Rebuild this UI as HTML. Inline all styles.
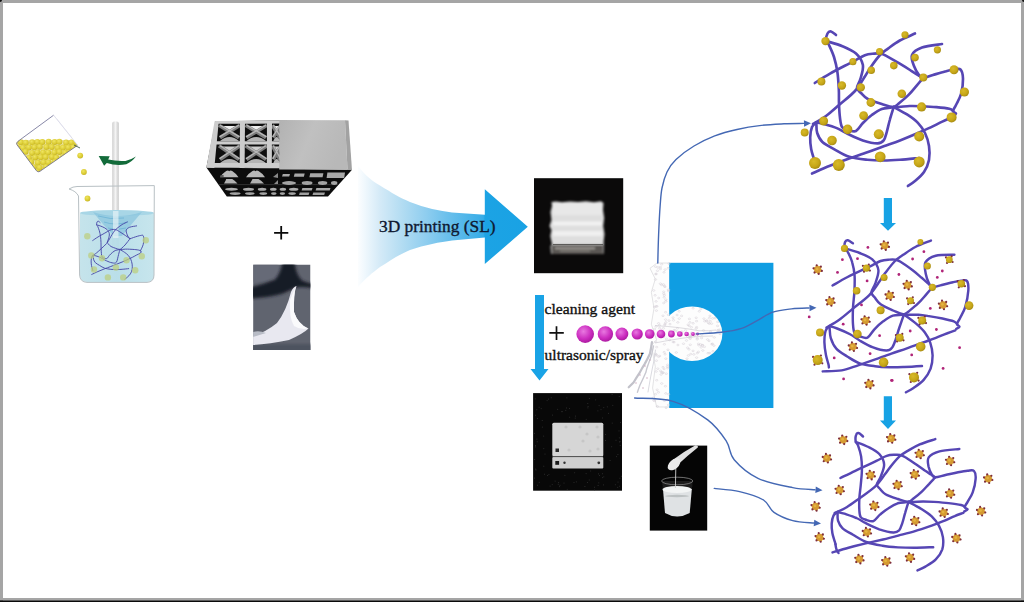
<!DOCTYPE html>
<html><head><meta charset="utf-8"><style>
html,body{margin:0;padding:0;background:#fff;width:1024px;height:602px;overflow:hidden}
svg{display:block}
</style></head><body>
<svg width="1024" height="602" viewBox="0 0 1024 602">
<defs><radialGradient id="gb" cx="0.4" cy="0.38" r="0.65"><stop offset="0" stop-color="#d8ba2a"/><stop offset="0.65" stop-color="#c6a618"/><stop offset="1" stop-color="#a68a12"/></radialGradient>
<linearGradient id="arrg" x1="0" y1="0" x2="1" y2="0"><stop offset="0" stop-color="#ffffff"/><stop offset="0.12" stop-color="#eef7fc"/><stop offset="0.55" stop-color="#8fcdee"/><stop offset="1" stop-color="#19a3e2"/></linearGradient>
<radialGradient id="mg" cx="0.4" cy="0.35" r="0.7"><stop offset="0" stop-color="#e878e0"/><stop offset="0.6" stop-color="#cc2ec0"/><stop offset="1" stop-color="#a8189c"/></radialGradient>
<radialGradient id="yb" cx="0.4" cy="0.35" r="0.7"><stop offset="0" stop-color="#f0e660"/><stop offset="0.7" stop-color="#d8c830"/><stop offset="1" stop-color="#c0ae22"/></radialGradient>
<linearGradient id="rod" x1="0" y1="0" x2="1" y2="0"><stop offset="0" stop-color="#cfcfcf"/><stop offset="0.5" stop-color="#f4f4f4"/><stop offset="1" stop-color="#c8c8c8"/></linearGradient>
<linearGradient id="liq" x1="0" y1="0" x2="1" y2="0"><stop offset="0" stop-color="#c2e2ea"/><stop offset="0.5" stop-color="#b6dde8"/><stop offset="1" stop-color="#c4e4ec"/></linearGradient>
<linearGradient id="scafTop" x1="0" y1="0" x2="1" y2="1"><stop offset="0" stop-color="#c8c8c8"/><stop offset="1" stop-color="#a0a0a0"/></linearGradient>
</defs>
<rect x="0" y="0" width="1024" height="602" fill="#ffffff"/>
<rect x="0" y="0" width="1024" height="3" fill="#a5a5a5"/>
<rect x="0" y="0" width="3" height="602" fill="#a5a5a5"/>
<rect x="1021" y="0" width="3" height="602" fill="#a5a5a5"/>
<rect x="0" y="598" width="1024" height="2.4" fill="#a5a5a5"/>
<rect x="0" y="600.4" width="1024" height="1.6" fill="#0a0a0a"/>
<circle cx="0" cy="0" r="2" fill="#111"/>
<circle cx="1024" cy="0" r="2" fill="#111"/>
<polygon points="16.5,142.5 53.6,115.2 77.4,144.9 37.9,171.6" fill="#ffffff" stroke="none"/>
<defs><clipPath id="bkc"><path d="M53.6,115.2 L18,141.3 Q15.8,143 17,144.8 L36.5,170.8 Q38,172.6 40,171.3 L77.4,145.4 Z"/></clipPath></defs>
<g clip-path="url(#bkc)">
<rect x="10" y="140" width="75" height="40" fill="#ece4a0"/>
<circle cx="14.5" cy="142.5" r="3.0" fill="url(#yb)"/>
<circle cx="20.8" cy="142.3" r="3.0" fill="url(#yb)"/>
<circle cx="25.8" cy="142.7" r="3.0" fill="url(#yb)"/>
<circle cx="32.2" cy="142.3" r="3.0" fill="url(#yb)"/>
<circle cx="37.4" cy="142.0" r="3.0" fill="url(#yb)"/>
<circle cx="42.3" cy="142.1" r="3.0" fill="url(#yb)"/>
<circle cx="48.7" cy="141.8" r="3.0" fill="url(#yb)"/>
<circle cx="54.6" cy="142.0" r="3.0" fill="url(#yb)"/>
<circle cx="59.4" cy="141.8" r="3.0" fill="url(#yb)"/>
<circle cx="66.1" cy="142.6" r="3.0" fill="url(#yb)"/>
<circle cx="71.5" cy="142.4" r="3.0" fill="url(#yb)"/>
<circle cx="75.9" cy="142.1" r="3.0" fill="url(#yb)"/>
<circle cx="17.3" cy="147.7" r="3.0" fill="url(#yb)"/>
<circle cx="22.9" cy="147.8" r="3.0" fill="url(#yb)"/>
<circle cx="28.9" cy="147.4" r="3.0" fill="url(#yb)"/>
<circle cx="34.4" cy="147.3" r="3.0" fill="url(#yb)"/>
<circle cx="39.8" cy="146.7" r="3.0" fill="url(#yb)"/>
<circle cx="46.3" cy="147.0" r="3.0" fill="url(#yb)"/>
<circle cx="51.8" cy="147.0" r="3.0" fill="url(#yb)"/>
<circle cx="57.7" cy="147.8" r="3.0" fill="url(#yb)"/>
<circle cx="63.0" cy="147.6" r="3.0" fill="url(#yb)"/>
<circle cx="68.3" cy="147.6" r="3.0" fill="url(#yb)"/>
<circle cx="73.3" cy="147.3" r="3.0" fill="url(#yb)"/>
<circle cx="79.9" cy="146.9" r="3.0" fill="url(#yb)"/>
<circle cx="21.3" cy="152.2" r="3.0" fill="url(#yb)"/>
<circle cx="25.5" cy="151.8" r="3.0" fill="url(#yb)"/>
<circle cx="32.1" cy="152.9" r="3.0" fill="url(#yb)"/>
<circle cx="37.4" cy="152.3" r="3.0" fill="url(#yb)"/>
<circle cx="43.1" cy="152.6" r="3.0" fill="url(#yb)"/>
<circle cx="48.2" cy="152.4" r="3.0" fill="url(#yb)"/>
<circle cx="54.3" cy="152.4" r="3.0" fill="url(#yb)"/>
<circle cx="59.4" cy="151.9" r="3.0" fill="url(#yb)"/>
<circle cx="65.2" cy="152.8" r="3.0" fill="url(#yb)"/>
<circle cx="70.8" cy="152.4" r="3.0" fill="url(#yb)"/>
<circle cx="28.9" cy="157.9" r="3.0" fill="url(#yb)"/>
<circle cx="35.2" cy="157.4" r="3.0" fill="url(#yb)"/>
<circle cx="40.7" cy="157.3" r="3.0" fill="url(#yb)"/>
<circle cx="45.6" cy="157.0" r="3.0" fill="url(#yb)"/>
<circle cx="51.9" cy="156.9" r="3.0" fill="url(#yb)"/>
<circle cx="56.4" cy="157.7" r="3.0" fill="url(#yb)"/>
<circle cx="63.0" cy="157.3" r="3.0" fill="url(#yb)"/>
<circle cx="31.1" cy="162.0" r="3.0" fill="url(#yb)"/>
<circle cx="37.9" cy="162.7" r="3.0" fill="url(#yb)"/>
<circle cx="43.5" cy="162.4" r="3.0" fill="url(#yb)"/>
<circle cx="48.5" cy="162.4" r="3.0" fill="url(#yb)"/>
<circle cx="54.7" cy="162.1" r="3.0" fill="url(#yb)"/>
<circle cx="33.9" cy="167.2" r="3.0" fill="url(#yb)"/>
<circle cx="39.7" cy="167.7" r="3.0" fill="url(#yb)"/>
<circle cx="46.0" cy="166.9" r="3.0" fill="url(#yb)"/>
<circle cx="37.2" cy="172.1" r="3.0" fill="url(#yb)"/>
</g>
<path d="M53.6,115.2 L18,141.3 Q15.8,143 17,144.8 L36.5,170.8 Q38,172.6 40,171.3 L77.4,145.4" fill="none" stroke="#6a6a90" stroke-width="0.8"/>
<line x1="53.6" y1="115.2" x2="77.4" y2="144.9" stroke="#c8c8dc" stroke-width="0.6"/>
<line x1="57" y1="119" x2="72" y2="138" stroke="#dcdcea" stroke-width="0.5"/>
<path d="M74,145 L80,148" stroke="#2a4a3a" stroke-width="0.8"/>
<circle cx="80.2" cy="155.6" r="2.9" fill="url(#yb)"/>
<circle cx="83.9" cy="172.0" r="2.9" fill="url(#yb)"/>
<circle cx="87.5" cy="198.5" r="2.9" fill="url(#yb)"/>
<rect x="112.2" y="121.5" width="6.6" height="132" rx="2" fill="url(#rod)"/>
<path d="M98.7,156.1 L109.7,156.3 L108.2,159.6 Q116.5,161.4 125.4,160.9 Q131,160 135.9,156.6 Q132,162 126.3,164.2 Q116.5,166 106.8,163 L104.1,165.7 Z" fill="#136b3a"/>
<path d="M80,213 L80,275 Q80,282 87,282 L147,282 Q154,282 154,275 L154,213 Z" fill="url(#liq)" opacity="0.95"/>
<ellipse cx="117" cy="213" rx="37" ry="3" fill="#a8d6e6"/>
<path d="M93,212 Q117,220 142,212 Q130,226 122,236 L114,236 Q104,226 93,212Z" fill="#88c4de" opacity="0.7" filter="url(#bl05)"/>
<path d="M98,216 Q110,220 124,218 M104,222 Q115,226 128,222 M108,228 Q116,231 126,228" stroke="#5aa8d0" stroke-width="0.7" fill="none" opacity="0.8"/>
<path d="M69,189 Q73,186.5 77,186.5 L154.3,185.6 M69,189 Q76,191 78.5,196 L79.6,275 Q80,282 87,282.4 L147,282.4 Q154,282 154,275 L154.3,185.6" fill="none" stroke="#b8c0c4" stroke-width="1"/>
<rect x="113" y="211" width="5.5" height="27" fill="#e6f2f6" opacity="0.7"/>
<g fill="none" stroke="#4848a8" stroke-width="2.6" stroke-linecap="round" transform="matrix(0.345,0,0,0.375,-188.38,209.38)"><path d="M836.0,35.0 C835.2,34.4 832.4,31.8 831.0,31.5 C829.6,31.2 828.3,32.0 827.5,33.5 C826.7,35.0 825.8,38.6 826.0,40.5 C826.2,42.4 827.7,42.2 829.0,45.0 C830.3,47.8 832.6,52.5 834.0,57.0 C835.4,61.5 836.6,66.7 837.4,72.0 C838.2,77.3 838.5,83.7 838.8,89.0 C839.1,94.3 838.8,99.2 839.0,104.0 C839.2,108.8 839.5,114.2 840.0,118.0 C840.5,121.8 840.7,125.0 842.0,127.0 C843.3,129.0 847.0,129.5 848.0,130.0"/><path d="M826.0,41.0 C828.7,41.9 837.4,44.1 842.4,46.2 C847.4,48.3 852.6,50.4 856.0,53.5 C859.4,56.6 862.1,60.8 862.9,65.0 C863.6,69.2 861.5,74.9 860.5,78.7 C859.5,82.5 856.9,85.6 857.0,88.0 C857.1,90.4 859.2,91.2 861.0,93.0 C862.8,94.8 864.3,97.2 867.8,99.0 C871.3,100.8 877.5,102.7 881.8,104.0 C886.1,105.3 889.1,106.7 893.7,107.0 C898.4,107.3 905.1,106.1 909.7,106.0 C914.3,105.9 916.9,106.0 921.4,106.2 C925.9,106.4 931.9,106.7 936.5,107.1 C941.1,107.5 946.5,108.1 949.3,108.8 C952.1,109.5 952.7,110.8 953.4,111.2"/><path d="M814.8,83.0 C817.3,81.4 823.6,77.2 830.0,73.6 C836.4,70.0 847.5,64.5 853.3,61.4 C859.1,58.3 861.4,56.5 864.9,55.2 C868.4,53.9 871.7,53.9 874.2,53.6 C876.7,53.3 878.1,53.3 880.0,53.6 C881.9,53.9 882.5,53.9 885.8,55.6 C889.1,57.3 895.8,61.3 899.8,63.7 C903.8,66.1 907.0,68.1 910.0,70.0 C913.0,71.9 915.8,73.7 918.0,75.0 C920.2,76.3 922.2,77.5 923.0,78.0"/><path d="M813.0,124.0 C815.2,122.7 821.7,119.2 826.0,116.0 C830.3,112.8 834.2,109.2 839.0,105.0 C843.8,100.8 850.7,95.8 855.0,91.0 C859.3,86.2 862.3,80.5 864.9,76.5 C867.5,72.5 868.2,70.8 870.7,67.2 C873.2,63.6 877.1,58.1 880.0,55.0 C882.9,51.9 884.7,51.0 888.0,48.6 C891.3,46.2 895.3,43.0 899.8,40.5 C904.3,38.0 912.5,34.7 915.0,33.5"/><path d="M942.0,44.0 C938.7,44.6 927.0,45.8 922.0,47.6 C917.0,49.4 913.3,51.9 912.0,55.0 C910.7,58.1 912.8,62.7 914.0,66.0 C915.2,69.3 917.5,73.0 919.0,75.0 C920.5,77.0 920.7,78.0 923.0,78.0 C925.3,78.0 929.3,76.1 933.0,75.0 C936.7,73.9 941.5,72.4 945.0,71.5 C948.5,70.6 951.4,69.8 954.0,69.5 C956.6,69.2 959.0,68.0 960.5,69.5 C962.0,71.0 962.9,74.6 963.0,78.7 C963.1,82.8 962.2,89.6 961.0,94.0 C959.8,98.4 957.3,102.2 956.0,105.0 C954.7,107.8 953.0,109.6 953.0,111.0 C953.0,112.4 956.1,112.7 956.0,113.5 C955.9,114.3 953.1,115.6 952.5,116.0"/><path d="M923.0,78.0 C922.0,79.3 919.1,82.8 916.7,85.6 C914.3,88.4 911.5,92.0 908.6,94.9 C905.7,97.8 901.8,101.0 899.3,103.0 C896.8,105.0 896.6,106.0 893.7,107.0 C890.8,108.0 885.4,107.7 881.8,109.0 C878.1,110.3 874.9,112.7 871.8,115.0 C868.6,117.3 865.5,120.3 862.9,123.0 C860.3,125.7 858.5,129.8 856.0,131.0 C853.5,132.2 849.3,130.2 848.0,130.0"/><path d="M816.0,122.4 C817.3,122.7 820.4,123.0 824.0,124.0 C827.6,125.0 833.4,126.7 837.4,128.4 C841.4,130.1 843.8,132.0 848.0,134.0 C852.2,136.0 857.8,138.8 862.8,140.4 C867.8,142.0 874.2,143.3 877.7,143.3 C881.2,143.3 882.2,142.3 883.7,140.4 C885.2,138.5 885.8,135.2 886.8,131.8 C887.8,128.4 888.6,124.1 889.8,120.0 C890.9,115.9 893.1,109.2 893.7,107.0"/><path d="M893.7,107.0 C896.0,108.3 903.4,112.1 907.4,114.7 C911.4,117.3 915.0,119.8 917.9,122.8 C920.8,125.8 923.1,129.1 925.0,133.0 C926.9,136.9 928.3,141.5 929.0,146.0 C929.7,150.5 929.8,155.7 929.0,160.0 C928.2,164.3 926.3,168.5 924.0,172.0 C921.7,175.5 917.7,178.7 915.0,181.0 C912.3,183.3 909.1,185.2 907.9,186.0"/><path d="M816.4,124.0 C816.5,125.5 816.2,130.0 817.2,133.0 C818.2,136.0 819.5,139.3 822.4,142.0 C825.3,144.7 829.9,146.8 834.4,149.3 C838.9,151.8 843.8,155.1 849.3,156.8 C854.8,158.6 861.6,159.2 867.3,159.8 C873.0,160.4 878.2,160.5 883.7,160.5 C889.2,160.5 894.1,160.2 900.0,159.8 C905.9,159.4 915.8,158.3 919.0,158.0"/><path d="M812.0,173.5 C815.0,172.2 823.9,168.2 829.9,165.8 C835.9,163.4 841.6,161.2 847.8,159.0 C854.0,156.8 861.3,154.4 867.3,152.3 C873.3,150.2 878.2,148.3 883.7,146.3 C889.2,144.3 894.3,142.6 900.0,140.4 C905.7,138.2 912.9,135.2 918.0,133.0 C923.1,130.8 926.7,129.3 930.7,127.4 C934.8,125.5 938.8,123.2 942.3,121.6 C945.8,120.0 950.0,118.3 951.6,117.6"/><path d="M816.4,122.4 C815.7,123.2 813.0,124.5 812.0,127.0 C811.0,129.5 810.3,133.7 810.2,137.4 C810.1,141.1 810.5,145.6 811.2,149.3 C811.9,153.0 813.6,157.5 814.2,159.8 C814.8,162.1 814.9,162.5 815.0,163.0"/></g>
<circle cx="87.3" cy="236.2" r="3.2" fill="#bccf80" opacity="0.75"/>
<circle cx="145.8" cy="240.2" r="3.2" fill="#bccf80" opacity="0.75"/>
<circle cx="91.3" cy="255.5" r="3.2" fill="#bccf80" opacity="0.75"/>
<circle cx="141.8" cy="256.2" r="3.2" fill="#bccf80" opacity="0.75"/>
<circle cx="102.0" cy="258.2" r="3.2" fill="#bccf80" opacity="0.75"/>
<circle cx="126.5" cy="260.2" r="3.2" fill="#bccf80" opacity="0.75"/>
<circle cx="94.0" cy="269.5" r="3.2" fill="#bccf80" opacity="0.75"/>
<circle cx="115.9" cy="267.5" r="3.2" fill="#bccf80" opacity="0.75"/>
<circle cx="135.2" cy="270.2" r="3.2" fill="#bccf80" opacity="0.75"/>
<circle cx="107.9" cy="277.4" r="3.2" fill="#bccf80" opacity="0.75"/>
<circle cx="123.2" cy="277.4" r="3.2" fill="#bccf80" opacity="0.75"/>
<g>
<polygon points="206.4,167.5 352,169.8 328,196.5 226.8,196.5" fill="#0c0c0c"/>
<polygon points="215.5,121.2 280,120.5 280,169 206.4,167.5" fill="#0e0e0e"/>
<polygon points="221.5,126.0 237.5,126.0 229.5,133.2" fill="#eeeeee"/>
<path d="M219.0,125.2 L239.0,137.6 M240.0,125.2 L220.0,137.6" stroke="#7c7c7c" stroke-width="3.6"/>
<path d="M220.2,125.2 L239.5,136.9 M238.8,125.2 L219.5,136.9" stroke="#b8b8b8" stroke-width="1.3"/>
<path d="M220.0,141.1 Q229.5,133.1 239.0,141.1 Z" fill="#b4b4b4"/>
<polygon points="221.5,146.5 237.5,146.5 229.5,154.3" fill="#cfcfcf"/>
<path d="M219.0,145.7 L239.0,159.5 M240.0,145.7 L220.0,159.5" stroke="#7c7c7c" stroke-width="3.6"/>
<path d="M220.2,145.7 L239.5,158.8 M238.8,145.7 L219.5,158.8" stroke="#b8b8b8" stroke-width="1.3"/>
<path d="M220.0,163.0 Q229.5,155.0 239.0,163.0 Z" fill="#b4b4b4"/>
<polygon points="248.0,126.0 264.5,126.0 256.2,133.2" fill="#eeeeee"/>
<path d="M245.5,125.2 L266.0,137.6 M267.0,125.2 L246.5,137.6" stroke="#7c7c7c" stroke-width="3.6"/>
<path d="M246.7,125.2 L266.5,136.9 M265.8,125.2 L246.0,136.9" stroke="#b8b8b8" stroke-width="1.3"/>
<path d="M246.5,141.1 Q256.2,133.1 266.0,141.1 Z" fill="#b4b4b4"/>
<polygon points="248.0,146.5 264.5,146.5 256.2,154.3" fill="#cfcfcf"/>
<path d="M245.5,145.7 L266.0,159.5 M267.0,145.7 L246.5,159.5" stroke="#7c7c7c" stroke-width="3.6"/>
<path d="M246.7,145.7 L266.5,158.8 M265.8,145.7 L246.0,158.8" stroke="#b8b8b8" stroke-width="1.3"/>
<path d="M246.5,163.0 Q256.2,155.0 266.0,163.0 Z" fill="#b4b4b4"/>
<polygon points="274.8,126.0 278.5,126.0 276.6,133.2" fill="#eeeeee"/>
<path d="M272.3,125.2 L280.0,137.6 M281.0,125.2 L273.3,137.6" stroke="#7c7c7c" stroke-width="3.6"/>
<path d="M273.5,125.2 L280.5,136.9 M279.8,125.2 L272.8,136.9" stroke="#b8b8b8" stroke-width="1.3"/>
<path d="M273.3,141.1 Q276.6,133.1 280.0,141.1 Z" fill="#b4b4b4"/>
<polygon points="274.8,146.5 278.5,146.5 276.6,154.3" fill="#cfcfcf"/>
<path d="M272.3,145.7 L280.0,159.5 M281.0,145.7 L273.3,159.5" stroke="#7c7c7c" stroke-width="3.6"/>
<path d="M273.5,145.7 L280.5,158.8 M279.8,145.7 L272.8,158.8" stroke="#b8b8b8" stroke-width="1.3"/>
<path d="M273.3,163.0 Q276.6,155.0 280.0,163.0 Z" fill="#b4b4b4"/>
<g fill="#cdcdcd">
<polygon points="215.5,121 280,120.5 280,123.6 215,123.8"/>
<polygon points="212.6,141.2 280,141.2 280,144.6 212.2,144.6"/>
<polygon points="207.3,163 280,163 280,168.2 206.4,167.6"/>
<polygon points="214.6,121.2 218.8,121.2 214.3,168 206.4,167.6"/>
<polygon points="240,121.3 245,121.3 244.6,168 239.6,168"/>
<polygon points="267,121 272,121 271.8,168 266.8,168"/>
</g>
<path d="M220.0,177.2 Q223.0,173 226.2,171 Q228.2,170 229.2,171.3 Q230.2,170 232.2,171 Q235.5,173 238.5,177.2 Z" fill="#b8b8b8"/>
<path d="M224.0,183.6 Q226.0,180 226.2,179 L232.2,179 Q234.5,180 237.5,183.6 Z" fill="#b2b2b2"/>
<path d="M246.0,177.2 Q249.0,173 252.5,171 Q254.5,170 255.5,171.3 Q256.5,170 258.5,171 Q262.0,173 265.0,177.2 Z" fill="#b8b8b8"/>
<path d="M250.0,183.6 Q252.0,180 252.5,179 L258.5,179 Q261.0,180 264.0,183.6 Z" fill="#b2b2b2"/>
<path d="M273,177 L278,173 L278,178 Z M274,184 L278,180 L278,184 Z" fill="#8a8a8a"/>
<line x1="219" y1="184.6" x2="338" y2="184.6" stroke="#3a3a3a" stroke-width="0.8"/>
<polygon points="282.8,174.0 290.0,174.0 289.2,176.4 282.0,176.4" fill="#a8a8a8"/>
<polygon points="294.6,173.5 304.7,173.5 303.9,176.8 293.8,176.8" fill="#a8a8a8"/>
<polygon points="310.2,173.2 323.4,173.2 322.6,177.2 309.4,177.2" fill="#a8a8a8"/>
<polygon points="327.4,172.5 345.0,172.5 344.2,178.0 326.6,178.0" fill="#a8a8a8"/>
<ellipse cx="289.0" cy="183" rx="7.0" ry="1.9" fill="#a4a4a4"/>
<ellipse cx="307.1" cy="183" rx="5.4" ry="1.9" fill="#a4a4a4"/>
<ellipse cx="322.6" cy="183" rx="4.7" ry="1.9" fill="#a4a4a4"/>
<ellipse cx="334.2" cy="183" rx="3.2" ry="1.9" fill="#a4a4a4"/>
<ellipse cx="231.5" cy="189.2" rx="6.5" ry="1.5" fill="#acacac"/>
<ellipse cx="248.5" cy="189.2" rx="5.5" ry="1.5" fill="#acacac"/>
<ellipse cx="262.1" cy="189.2" rx="4.3" ry="1.5" fill="#acacac"/>
<ellipse cx="273.3" cy="189.2" rx="3.3" ry="1.5" fill="#acacac"/>
<ellipse cx="282.9" cy="189.2" rx="3.2" ry="1.5" fill="#acacac"/>
<ellipse cx="293.7" cy="189.2" rx="4.7" ry="1.5" fill="#acacac"/>
<polygon points="302.4,188 312.5,188 311.7,190.6 301.6,190.6" fill="#a8a8a8"/>
<polygon points="316.4,188 330.5,188 329.7,190.6 315.6,190.6" fill="#a8a8a8"/>
<ellipse cx="235.1" cy="193.6" rx="5.5" ry="1.4" fill="#a4a4a4"/>
<ellipse cx="249.8" cy="193.6" rx="4.8" ry="1.4" fill="#a4a4a4"/>
<ellipse cx="263.3" cy="193.6" rx="3.9" ry="1.4" fill="#a4a4a4"/>
<ellipse cx="273.8" cy="193.6" rx="2.8" ry="1.4" fill="#a4a4a4"/>
<ellipse cx="282.4" cy="193.6" rx="2.7" ry="1.4" fill="#a4a4a4"/>
<ellipse cx="292.1" cy="193.6" rx="3.8" ry="1.4" fill="#a4a4a4"/>
<polygon points="299.8,192.4 309.4,192.4 308.6,195 299.0,195" fill="#a0a0a0"/>
<polygon points="313.3,192.4 325.0,192.4 324.2,195 312.5,195" fill="#a0a0a0"/>
<ellipse cx="222" cy="176" rx="2" ry="1" fill="#555"/>
<defs><linearGradient id="blk" x1="0" y1="0" x2="1" y2="0.3"><stop offset="0" stop-color="#b2b2b2"/><stop offset="0.5" stop-color="#c0c0c0"/><stop offset="1" stop-color="#b8b8b8"/></linearGradient></defs>
<polygon points="279.2,120 345,120.3 347.5,169.8 279.2,169.4" fill="url(#blk)"/>
<polygon points="345,120.3 347.5,169.8 352,170.2 348.5,120.5" fill="#a2a2a2"/>
</g>
<path d="M274.1,232.8 L288.3,232.8 M281.2,226 L281.2,239.4" stroke="#0a0a0a" stroke-width="1.8"/>
<defs><clipPath id="cp1"><rect x="253.1" y="264.5" width="57.4" height="85.6"/></clipPath>
<filter id="bl1" x="-20%" y="-20%" width="140%" height="140%"><feGaussianBlur stdDeviation="1.6"/></filter>
<filter id="bl05"><feGaussianBlur stdDeviation="0.5"/></filter></defs>
<g clip-path="url(#cp1)">
<rect x="253.1" y="264.5" width="57.4" height="85.6" fill="#60646f"/>
<rect x="253.1" y="264.5" width="26" height="18" fill="#666a77" filter="url(#bl1)"/>
<path d="M250,287.5 Q263,284.5 275,279.5 Q281,273 282.5,262 L294.5,262 Q296,275 302,280.5 Q307,283 313,283.5 L313,288.5 Q306,286.5 297,287.2 Q290,290 283,293.5 Q270,297.5 250,298.5 Z" fill="#161b27" filter="url(#bl1)"/>
<rect x="250" y="344" width="64" height="10" fill="#4e525e" filter="url(#bl1)"/>
<path d="M253,336 Q266,332 277,323 Q286.3,311 291,292 Q293,287 296.5,286 Q293.5,294 294,312 Q298,324 308.5,328.6 Q303,334 289,340 Q270,344 253,345 Z" fill="#e8e8f0" filter="url(#bl05)"/>
<path d="M295.8,286.3 Q293.5,294 294,312 Q298,324 307.8,328.6 Q300,330 294,326 Q289,318 290,300 Z" fill="#fafafc" filter="url(#bl05)"/>
<path d="M253,332 Q259,330 266,333 L253,337 Z" fill="#b8bcc6" filter="url(#bl05)"/>
</g>
<defs><linearGradient id="ag" gradientUnits="userSpaceOnUse" x1="356" y1="0" x2="528" y2="0"><stop offset="0" stop-color="#ffffff"/><stop offset="0.05" stop-color="#f0f8fd"/><stop offset="0.14" stop-color="#d4eaf7"/><stop offset="0.27" stop-color="#b2dcf2"/><stop offset="0.41" stop-color="#8ecdef"/><stop offset="0.52" stop-color="#6ec1ec"/><stop offset="0.74" stop-color="#36ace7"/><stop offset="0.75" stop-color="#1ca3e4"/><stop offset="1" stop-color="#19a2e4"/></linearGradient></defs>
<path d="M358,166 C366,176 372,181 380,185.6 C392,193 400,198 410,202 C425,208 440,211 452,212.5 L484.8,214.8 L484.8,189.2 L527.8,226.7 L484.8,264.1 L484.8,237.6 L452,240.5 C440,242 425,245 410,250 C398,255 390,261 380,267 C372,273 366,278 358,287 Z" fill="url(#ag)"/>
<text x="379" y="232.4" font-family="Liberation Serif" font-size="17.35" fill="#0e1830" stroke="#0e1830" stroke-width="0.35">3D printing (SL)</text>
<rect x="534" y="178.2" width="89.2" height="95" fill="#0b0a0a"/>
<defs><filter id="bl2"><feGaussianBlur stdDeviation="0.8"/></filter></defs>
<g filter="url(#bl2)">
<path d="M551,254 L550.5,246 L552,244 L550.3,236 L551.5,230 L549.5,226 L551.5,220 L550.5,212 L552,206 L551.5,202 L556,201.5 L562,202.3 L570,201.4 L578,202 L586,201.3 L594,202.2 L601,201.2 L603.5,203 L603,210 L604.2,218 L603.2,226 L604.5,234 L603.6,242 L604,248 L603.5,254 Z" fill="#dedede"/>
<rect x="553" y="203" width="49" height="12" fill="#e8e8e8"/>
<rect x="553" y="221.5" width="49" height="4" fill="#f2f2f2"/>
<rect x="553" y="231" width="49" height="5" fill="#f0f0f0"/>
<rect x="551.5" y="244.8" width="52" height="9.2" fill="#5a5652"/>
<rect x="555" y="247.5" width="40" height="1.6" fill="#a8a4a0"/>
<rect x="560" y="250.5" width="30" height="1.2" fill="#8c8884"/>
</g>
<line x1="553" y1="244.6" x2="603" y2="244.6" stroke="#3a3836" stroke-width="0.8"/>
<path d="M535,295 L544,295 L544,369 L548.5,369 L539.5,380.5 L530.5,369 L535,369 Z" fill="#19a3e6"/>
<text x="544.6" y="313.6" font-family="Liberation Serif" font-size="15.6" fill="#111" stroke="#111" stroke-width="0.35">cleaning agent</text>
<text x="544.6" y="359.5" font-family="Liberation Serif" font-size="15.5" fill="#111" stroke="#111" stroke-width="0.35">ultrasonic/spray</text>
<path d="M549.3,332.9 L563.8,332.9 M556.5,326.2 L556.5,339.9" stroke="#111" stroke-width="1.7"/>
<path d="M657,263 L650,268.3 L655.3,279 L651.3,292.2 L654,308.2 L651.3,324.2 L656.6,340 L651.3,345.4 L655.3,366.7 L652.6,388 L656.6,407 L670,407 L670,263 Z" fill="#fdfdfd" stroke="#d0d0d4" stroke-width="0.6"/>
<rect x="669.2" y="262.8" width="104.2" height="145.2" fill="#0f9de2"/>
<ellipse cx="692" cy="333.7" rx="30.4" ry="27.3" fill="#fdfdfd"/>
<g fill="none" stroke="#d2ccd4" stroke-width="0.5">
<ellipse cx="683.5" cy="343.7" rx="1.2" ry="0.8"/>
<ellipse cx="718.4" cy="330.0" rx="1.2" ry="0.8"/>
<ellipse cx="687.6" cy="347.8" rx="1.2" ry="0.8"/>
<ellipse cx="663.7" cy="336.7" rx="1.2" ry="0.8"/>
<ellipse cx="657.0" cy="306.3" rx="1.2" ry="0.8"/>
<ellipse cx="656.7" cy="380.2" rx="1.2" ry="0.8"/>
<ellipse cx="698.4" cy="351.9" rx="1.2" ry="0.8"/>
<ellipse cx="661.7" cy="264.2" rx="1.2" ry="0.8"/>
<ellipse cx="664.1" cy="297.3" rx="1.2" ry="0.8"/>
<ellipse cx="688.4" cy="355.5" rx="1.2" ry="0.8"/>
<ellipse cx="687.0" cy="358.7" rx="1.2" ry="0.8"/>
<ellipse cx="706.7" cy="320.5" rx="1.2" ry="0.8"/>
<ellipse cx="712.6" cy="318.4" rx="1.2" ry="0.8"/>
<ellipse cx="717.4" cy="330.6" rx="1.2" ry="0.8"/>
<ellipse cx="655.4" cy="353.9" rx="1.2" ry="0.8"/>
<ellipse cx="656.4" cy="310.6" rx="1.2" ry="0.8"/>
<ellipse cx="658.7" cy="298.0" rx="1.2" ry="0.8"/>
<ellipse cx="657.5" cy="270.7" rx="1.2" ry="0.8"/>
<ellipse cx="691.4" cy="327.3" rx="1.2" ry="0.8"/>
<ellipse cx="664.1" cy="368.9" rx="1.2" ry="0.8"/>
<ellipse cx="659.7" cy="356.0" rx="1.2" ry="0.8"/>
<ellipse cx="658.6" cy="323.4" rx="1.2" ry="0.8"/>
<ellipse cx="665.8" cy="301.4" rx="1.2" ry="0.8"/>
<ellipse cx="665.6" cy="319.6" rx="1.2" ry="0.8"/>
<ellipse cx="657.4" cy="406.4" rx="1.2" ry="0.8"/>
<ellipse cx="665.8" cy="299.7" rx="1.2" ry="0.8"/>
<ellipse cx="656.7" cy="347.1" rx="1.2" ry="0.8"/>
<ellipse cx="668.0" cy="349.8" rx="1.2" ry="0.8"/>
<ellipse cx="677.5" cy="328.2" rx="1.2" ry="0.8"/>
<ellipse cx="663.5" cy="284.5" rx="1.2" ry="0.8"/>
<ellipse cx="668.5" cy="289.7" rx="1.2" ry="0.8"/>
<ellipse cx="664.5" cy="400.7" rx="1.2" ry="0.8"/>
<ellipse cx="667.6" cy="364.9" rx="1.2" ry="0.8"/>
<ellipse cx="663.0" cy="367.2" rx="1.2" ry="0.8"/>
<ellipse cx="655.1" cy="295.3" rx="1.2" ry="0.8"/>
<ellipse cx="663.0" cy="315.8" rx="1.2" ry="0.8"/>
<ellipse cx="701.2" cy="347.3" rx="1.2" ry="0.8"/>
<ellipse cx="660.4" cy="267.1" rx="1.2" ry="0.8"/>
<ellipse cx="655.6" cy="341.7" rx="1.2" ry="0.8"/>
<ellipse cx="713.9" cy="345.6" rx="1.2" ry="0.8"/>
<ellipse cx="696.2" cy="317.8" rx="1.2" ry="0.8"/>
<ellipse cx="693.1" cy="350.9" rx="1.2" ry="0.8"/>
<ellipse cx="655.9" cy="355.4" rx="1.2" ry="0.8"/>
<ellipse cx="703.9" cy="318.7" rx="1.2" ry="0.8"/>
<ellipse cx="704.4" cy="346.8" rx="1.2" ry="0.8"/>
<ellipse cx="656.2" cy="371.5" rx="1.2" ry="0.8"/>
<ellipse cx="701.7" cy="334.6" rx="1.2" ry="0.8"/>
<ellipse cx="668.9" cy="263.7" rx="1.2" ry="0.8"/>
<ellipse cx="665.0" cy="286.8" rx="1.2" ry="0.8"/>
<ellipse cx="664.7" cy="324.9" rx="1.2" ry="0.8"/>
<ellipse cx="715.1" cy="318.1" rx="1.2" ry="0.8"/>
<ellipse cx="693.1" cy="308.2" rx="1.2" ry="0.8"/>
<ellipse cx="660.1" cy="334.5" rx="1.2" ry="0.8"/>
<ellipse cx="665.8" cy="322.4" rx="1.2" ry="0.8"/>
<ellipse cx="696.3" cy="334.1" rx="1.2" ry="0.8"/>
<ellipse cx="655.5" cy="266.6" rx="1.2" ry="0.8"/>
<ellipse cx="702.4" cy="345.3" rx="1.2" ry="0.8"/>
<ellipse cx="660.4" cy="268.9" rx="1.2" ry="0.8"/>
<ellipse cx="696.6" cy="327.2" rx="1.2" ry="0.8"/>
<ellipse cx="696.6" cy="357.6" rx="1.2" ry="0.8"/>
<ellipse cx="701.6" cy="338.0" rx="1.2" ry="0.8"/>
<ellipse cx="659.6" cy="328.2" rx="1.2" ry="0.8"/>
<ellipse cx="677.9" cy="345.0" rx="1.2" ry="0.8"/>
<ellipse cx="719.9" cy="329.7" rx="1.2" ry="0.8"/>
<ellipse cx="665.8" cy="393.4" rx="1.2" ry="0.8"/>
<ellipse cx="656.1" cy="326.4" rx="1.2" ry="0.8"/>
<ellipse cx="660.4" cy="283.7" rx="1.2" ry="0.8"/>
<ellipse cx="720.0" cy="333.9" rx="1.2" ry="0.8"/>
<ellipse cx="666.4" cy="338.9" rx="1.2" ry="0.8"/>
<ellipse cx="697.3" cy="338.3" rx="1.2" ry="0.8"/>
<ellipse cx="712.4" cy="343.8" rx="1.2" ry="0.8"/>
<ellipse cx="673.1" cy="317.7" rx="1.2" ry="0.8"/>
<ellipse cx="665.4" cy="386.2" rx="1.2" ry="0.8"/>
<ellipse cx="689.7" cy="335.5" rx="1.2" ry="0.8"/>
<ellipse cx="691.7" cy="333.7" rx="1.2" ry="0.8"/>
<ellipse cx="689.9" cy="322.4" rx="1.2" ry="0.8"/>
<ellipse cx="669.9" cy="331.1" rx="1.2" ry="0.8"/>
<ellipse cx="659.4" cy="325.3" rx="1.2" ry="0.8"/>
<ellipse cx="664.2" cy="352.2" rx="1.2" ry="0.8"/>
<ellipse cx="664.4" cy="295.2" rx="1.2" ry="0.8"/>
<ellipse cx="700.8" cy="309.0" rx="1.2" ry="0.8"/>
<ellipse cx="676.3" cy="352.5" rx="1.2" ry="0.8"/>
<ellipse cx="657.8" cy="368.7" rx="1.2" ry="0.8"/>
<ellipse cx="659.1" cy="336.5" rx="1.2" ry="0.8"/>
<ellipse cx="668.5" cy="290.9" rx="1.2" ry="0.8"/>
<ellipse cx="689.2" cy="325.8" rx="1.2" ry="0.8"/>
<ellipse cx="677.8" cy="322.4" rx="1.2" ry="0.8"/>
<ellipse cx="665.1" cy="354.2" rx="1.2" ry="0.8"/>
<ellipse cx="697.2" cy="339.3" rx="1.2" ry="0.8"/>
<ellipse cx="713.0" cy="351.3" rx="1.2" ry="0.8"/>
<ellipse cx="666.1" cy="407.8" rx="1.2" ry="0.8"/>
<ellipse cx="667.7" cy="368.1" rx="1.2" ry="0.8"/>
<ellipse cx="711.6" cy="323.6" rx="1.2" ry="0.8"/>
<ellipse cx="664.0" cy="272.3" rx="1.2" ry="0.8"/>
<ellipse cx="657.9" cy="267.5" rx="1.2" ry="0.8"/>
<ellipse cx="690.8" cy="337.2" rx="1.2" ry="0.8"/>
<ellipse cx="663.7" cy="291.8" rx="1.2" ry="0.8"/>
<ellipse cx="654.6" cy="400.9" rx="1.2" ry="0.8"/>
<ellipse cx="674.2" cy="330.2" rx="1.2" ry="0.8"/>
<ellipse cx="688.1" cy="324.8" rx="1.2" ry="0.8"/>
<ellipse cx="663.4" cy="328.3" rx="1.2" ry="0.8"/>
<ellipse cx="704.7" cy="321.2" rx="1.2" ry="0.8"/>
<ellipse cx="664.4" cy="286.1" rx="1.2" ry="0.8"/>
<ellipse cx="696.6" cy="321.1" rx="1.2" ry="0.8"/>
<ellipse cx="694.4" cy="335.6" rx="1.2" ry="0.8"/>
<ellipse cx="710.3" cy="321.2" rx="1.2" ry="0.8"/>
<ellipse cx="706.6" cy="321.2" rx="1.2" ry="0.8"/>
<ellipse cx="675.3" cy="330.5" rx="1.2" ry="0.8"/>
<ellipse cx="697.3" cy="353.1" rx="1.2" ry="0.8"/>
<ellipse cx="667.2" cy="399.9" rx="1.2" ry="0.8"/>
<ellipse cx="699.3" cy="311.3" rx="1.2" ry="0.8"/>
<ellipse cx="698.8" cy="345.2" rx="1.2" ry="0.8"/>
<ellipse cx="689.4" cy="318.9" rx="1.2" ry="0.8"/>
<ellipse cx="669.0" cy="320.6" rx="1.2" ry="0.8"/>
<ellipse cx="653.7" cy="290.5" rx="1.2" ry="0.8"/>
<ellipse cx="668.6" cy="394.2" rx="1.2" ry="0.8"/>
<ellipse cx="690.7" cy="336.1" rx="1.2" ry="0.8"/>
<ellipse cx="653.3" cy="397.8" rx="1.2" ry="0.8"/>
<ellipse cx="661.8" cy="330.9" rx="1.2" ry="0.8"/>
<ellipse cx="662.5" cy="334.3" rx="1.2" ry="0.8"/>
<ellipse cx="689.0" cy="349.3" rx="1.2" ry="0.8"/>
<ellipse cx="698.5" cy="343.9" rx="1.2" ry="0.8"/>
<ellipse cx="668.1" cy="268.2" rx="1.2" ry="0.8"/>
<ellipse cx="661.6" cy="372.2" rx="1.2" ry="0.8"/>
<ellipse cx="655.4" cy="394.2" rx="1.2" ry="0.8"/>
<ellipse cx="681.8" cy="331.7" rx="1.2" ry="0.8"/>
<ellipse cx="703.5" cy="330.4" rx="1.2" ry="0.8"/>
<ellipse cx="696.2" cy="328.5" rx="1.2" ry="0.8"/>
<ellipse cx="665.1" cy="269.6" rx="1.2" ry="0.8"/>
<ellipse cx="693.1" cy="323.3" rx="1.2" ry="0.8"/>
<ellipse cx="707.6" cy="339.5" rx="1.2" ry="0.8"/>
<ellipse cx="658.4" cy="392.3" rx="1.2" ry="0.8"/>
<ellipse cx="708.0" cy="353.2" rx="1.2" ry="0.8"/>
<ellipse cx="700.7" cy="344.5" rx="1.2" ry="0.8"/>
<ellipse cx="693.8" cy="354.4" rx="1.2" ry="0.8"/>
<ellipse cx="668.4" cy="405.0" rx="1.2" ry="0.8"/>
<ellipse cx="670.0" cy="324.1" rx="1.2" ry="0.8"/>
<ellipse cx="656.4" cy="360.7" rx="1.2" ry="0.8"/>
<ellipse cx="690.7" cy="354.1" rx="1.2" ry="0.8"/>
<ellipse cx="677.6" cy="331.9" rx="1.2" ry="0.8"/>
<ellipse cx="665.6" cy="312.2" rx="1.2" ry="0.8"/>
<ellipse cx="655.5" cy="279.5" rx="1.2" ry="0.8"/>
<ellipse cx="709.9" cy="353.1" rx="1.2" ry="0.8"/>
<ellipse cx="709.9" cy="315.9" rx="1.2" ry="0.8"/>
<ellipse cx="674.1" cy="342.1" rx="1.2" ry="0.8"/>
<ellipse cx="681.6" cy="315.9" rx="1.2" ry="0.8"/>
<ellipse cx="657.2" cy="389.8" rx="1.2" ry="0.8"/>
<ellipse cx="655.8" cy="274.1" rx="1.2" ry="0.8"/>
<ellipse cx="691.8" cy="332.8" rx="1.2" ry="0.8"/>
<ellipse cx="665.8" cy="358.7" rx="1.2" ry="0.8"/>
<ellipse cx="656.0" cy="306.4" rx="1.2" ry="0.8"/>
<ellipse cx="702.5" cy="345.1" rx="1.2" ry="0.8"/>
<ellipse cx="717.6" cy="325.9" rx="1.2" ry="0.8"/>
<ellipse cx="673.5" cy="320.3" rx="1.2" ry="0.8"/>
<ellipse cx="668.4" cy="314.8" rx="1.2" ry="0.8"/>
<ellipse cx="677.1" cy="315.0" rx="1.2" ry="0.8"/>
<ellipse cx="679.3" cy="318.6" rx="1.2" ry="0.8"/>
<ellipse cx="664.4" cy="344.3" rx="1.2" ry="0.8"/>
<ellipse cx="709.0" cy="340.9" rx="1.2" ry="0.8"/>
<ellipse cx="711.9" cy="344.2" rx="1.2" ry="0.8"/>
<ellipse cx="663.1" cy="372.8" rx="1.2" ry="0.8"/>
<ellipse cx="690.3" cy="344.8" rx="1.2" ry="0.8"/>
<ellipse cx="656.2" cy="273.9" rx="1.2" ry="0.8"/>
<ellipse cx="656.3" cy="354.6" rx="1.2" ry="0.8"/>
<ellipse cx="660.6" cy="370.9" rx="1.2" ry="0.8"/>
<ellipse cx="666.3" cy="373.7" rx="1.2" ry="0.8"/>
<ellipse cx="679.2" cy="311.3" rx="1.2" ry="0.8"/>
<ellipse cx="686.5" cy="340.5" rx="1.2" ry="0.8"/>
<ellipse cx="717.7" cy="321.9" rx="1.2" ry="0.8"/>
<ellipse cx="709.4" cy="323.6" rx="1.2" ry="0.8"/>
<ellipse cx="665.1" cy="324.0" rx="1.2" ry="0.8"/>
<ellipse cx="654.4" cy="307.0" rx="1.2" ry="0.8"/>
<ellipse cx="658.5" cy="356.6" rx="1.2" ry="0.8"/>
<ellipse cx="654.6" cy="329.0" rx="1.2" ry="0.8"/>
<ellipse cx="663.7" cy="293.7" rx="1.2" ry="0.8"/>
<ellipse cx="667.4" cy="366.7" rx="1.2" ry="0.8"/>
<ellipse cx="663.7" cy="303.0" rx="1.2" ry="0.8"/>
<ellipse cx="662.8" cy="372.6" rx="1.2" ry="0.8"/>
<ellipse cx="673.1" cy="342.0" rx="1.2" ry="0.8"/>
<ellipse cx="710.5" cy="332.0" rx="1.2" ry="0.8"/>
<ellipse cx="653.7" cy="400.3" rx="1.2" ry="0.8"/>
<ellipse cx="709.3" cy="318.2" rx="1.2" ry="0.8"/>
<ellipse cx="689.0" cy="337.3" rx="1.2" ry="0.8"/>
<ellipse cx="702.8" cy="350.5" rx="1.2" ry="0.8"/>
<ellipse cx="661.6" cy="284.9" rx="1.2" ry="0.8"/>
<ellipse cx="714.3" cy="337.4" rx="1.2" ry="0.8"/>
<ellipse cx="669.7" cy="340.0" rx="1.2" ry="0.8"/>
<ellipse cx="661.1" cy="374.5" rx="1.2" ry="0.8"/>
<ellipse cx="656.1" cy="301.4" rx="1.2" ry="0.8"/>
<ellipse cx="685.5" cy="330.4" rx="1.2" ry="0.8"/>
<ellipse cx="708.4" cy="322.9" rx="1.2" ry="0.8"/>
<ellipse cx="690.2" cy="338.7" rx="1.2" ry="0.8"/>
<ellipse cx="661.7" cy="383.5" rx="1.2" ry="0.8"/>
</g>
<path d="M655,325.6 Q680,327 699,330.8 Q710,331 716,330 M655,343 Q675,339 690,337.2 Q702,336 713,336" stroke="#c8c4cc" stroke-width="0.6" fill="none"/>
<g fill="none" stroke-linecap="round">
<path d="M652,342 Q651,349 649.9,353.7 Q647.5,359 644.9,363.6 Q642,368 639.9,372.4 Q636.5,377.5 633.7,382.3 Q631,385 628.7,387.3" stroke="#c2c2ca" stroke-width="2.2"/>
<path d="M653.5,346 Q652,356 648,365 Q646.5,369 646,372 Q643,379 640,385 Q638.5,389 637.4,392.3" stroke="#c8c8d0" stroke-width="1.4"/>
<path d="M655.5,350 Q654,362 652,370 Q650,380 648,392" stroke="#d0d0d8" stroke-width="0.8"/>
</g>
<circle cx="645.0" cy="366.0" r="0.7" fill="#c8a0b8"/>
<circle cx="640.0" cy="375.0" r="0.7" fill="#c8a0b8"/>
<circle cx="636.0" cy="383.0" r="0.7" fill="#c8a0b8"/>
<circle cx="647.0" cy="378.0" r="0.7" fill="#c8a0b8"/>
<circle cx="643.0" cy="388.0" r="0.7" fill="#c8a0b8"/>
<circle cx="650.0" cy="360.0" r="0.7" fill="#c8a0b8"/>
<circle cx="585.2" cy="334.1" r="8.8" fill="url(#mg)"/>
<circle cx="605.4" cy="334.0" r="7.7" fill="url(#mg)"/>
<circle cx="621.9" cy="334.0" r="6.4" fill="url(#mg)"/>
<circle cx="637.2" cy="334.0" r="5.6" fill="url(#mg)"/>
<circle cx="649.7" cy="334.0" r="4.8" fill="url(#mg)"/>
<circle cx="661.0" cy="334.0" r="4.3" fill="url(#mg)"/>
<circle cx="671.4" cy="334.0" r="3.4" fill="url(#mg)"/>
<circle cx="679.8" cy="334.0" r="2.8" fill="url(#mg)"/>
<circle cx="686.6" cy="334.0" r="2.3" fill="url(#mg)"/>
<circle cx="693.0" cy="334.0" r="1.9" fill="url(#mg)"/>
<circle cx="697.6" cy="334.0" r="1.4" fill="url(#mg)"/>
<rect x="533.1" y="393.1" width="88.9" height="97.6" fill="#080808"/>
<g fill="#3a3a3a">
<rect x="603.2" y="484.5" width="0.8" height="0.8"/>
<rect x="598.4" y="482.5" width="0.8" height="0.8"/>
<rect x="536.5" y="438.7" width="0.8" height="0.8"/>
<rect x="616.1" y="456.3" width="0.8" height="0.8"/>
<rect x="612.4" y="404.9" width="0.8" height="0.8"/>
<rect x="574.8" y="417.7" width="0.8" height="0.8"/>
<rect x="535.1" y="414.8" width="0.8" height="0.8"/>
<rect x="558.3" y="482.0" width="0.8" height="0.8"/>
<rect x="600.6" y="409.3" width="0.8" height="0.8"/>
<rect x="603.4" y="407.3" width="0.8" height="0.8"/>
<rect x="587.7" y="406.2" width="0.8" height="0.8"/>
<rect x="534.2" y="477.7" width="0.8" height="0.8"/>
<rect x="552.2" y="414.7" width="0.8" height="0.8"/>
<rect x="619.5" y="477.8" width="0.8" height="0.8"/>
<rect x="559.2" y="486.3" width="0.8" height="0.8"/>
<rect x="551.8" y="484.3" width="0.8" height="0.8"/>
<rect x="594.1" y="486.8" width="0.8" height="0.8"/>
<rect x="611.8" y="422.7" width="0.8" height="0.8"/>
<rect x="565.4" y="409.9" width="0.8" height="0.8"/>
<rect x="546.7" y="400.3" width="0.8" height="0.8"/>
<rect x="534.3" y="459.1" width="0.8" height="0.8"/>
<rect x="605.2" y="440.2" width="0.8" height="0.8"/>
<rect x="595.3" y="399.5" width="0.8" height="0.8"/>
<rect x="618.8" y="396.2" width="0.8" height="0.8"/>
<rect x="599.2" y="475.1" width="0.8" height="0.8"/>
<rect x="535.6" y="469.6" width="0.8" height="0.8"/>
<rect x="534.8" y="398.5" width="0.8" height="0.8"/>
<rect x="549.7" y="485.7" width="0.8" height="0.8"/>
<rect x="614.9" y="484.4" width="0.8" height="0.8"/>
<rect x="543.4" y="465.8" width="0.8" height="0.8"/>
<rect x="603.4" y="476.5" width="0.8" height="0.8"/>
<rect x="537.2" y="484.8" width="0.8" height="0.8"/>
<rect x="541.9" y="426.7" width="0.8" height="0.8"/>
<rect x="587.1" y="482.1" width="0.8" height="0.8"/>
<rect x="563.6" y="482.7" width="0.8" height="0.8"/>
<rect x="561.6" y="411.0" width="0.8" height="0.8"/>
<rect x="540.8" y="408.3" width="0.8" height="0.8"/>
<rect x="594.0" y="489.7" width="0.8" height="0.8"/>
<rect x="548.1" y="398.7" width="0.8" height="0.8"/>
<rect x="619.8" y="445.2" width="0.8" height="0.8"/>
<rect x="569.3" y="416.8" width="0.8" height="0.8"/>
<rect x="585.7" y="473.3" width="0.8" height="0.8"/>
<rect x="538.8" y="481.9" width="0.8" height="0.8"/>
<rect x="536.8" y="441.4" width="0.8" height="0.8"/>
<rect x="606.9" y="406.5" width="0.8" height="0.8"/>
<rect x="597.7" y="485.2" width="0.8" height="0.8"/>
<rect x="543.3" y="435.7" width="0.8" height="0.8"/>
<rect x="547.0" y="475.1" width="0.8" height="0.8"/>
<rect x="620.9" y="475.8" width="0.8" height="0.8"/>
<rect x="618.9" y="437.5" width="0.8" height="0.8"/>
<rect x="569.1" y="408.1" width="0.8" height="0.8"/>
<rect x="566.8" y="488.9" width="0.8" height="0.8"/>
<rect x="617.5" y="454.2" width="0.8" height="0.8"/>
<rect x="541.8" y="420.1" width="0.8" height="0.8"/>
<rect x="602.0" y="477.3" width="0.8" height="0.8"/>
<rect x="559.6" y="484.8" width="0.8" height="0.8"/>
<rect x="535.0" y="446.5" width="0.8" height="0.8"/>
<rect x="574.3" y="472.4" width="0.8" height="0.8"/>
<rect x="590.3" y="470.6" width="0.8" height="0.8"/>
<rect x="598.2" y="473.5" width="0.8" height="0.8"/>
<rect x="564.5" y="474.9" width="0.8" height="0.8"/>
<rect x="609.7" y="460.1" width="0.8" height="0.8"/>
<rect x="618.9" y="485.8" width="0.8" height="0.8"/>
<rect x="548.5" y="474.3" width="0.8" height="0.8"/>
<rect x="615.6" y="439.8" width="0.8" height="0.8"/>
<rect x="597.5" y="410.5" width="0.8" height="0.8"/>
<rect x="536.4" y="409.4" width="0.8" height="0.8"/>
<rect x="588.9" y="398.0" width="0.8" height="0.8"/>
<rect x="575.0" y="415.7" width="0.8" height="0.8"/>
<rect x="538.7" y="406.8" width="0.8" height="0.8"/>
<rect x="561.6" y="411.4" width="0.8" height="0.8"/>
<rect x="550.8" y="397.4" width="0.8" height="0.8"/>
<rect x="554.7" y="480.7" width="0.8" height="0.8"/>
<rect x="534.1" y="432.9" width="0.8" height="0.8"/>
<rect x="544.0" y="473.8" width="0.8" height="0.8"/>
<rect x="566.5" y="397.5" width="0.8" height="0.8"/>
<rect x="587.4" y="403.1" width="0.8" height="0.8"/>
<rect x="584.5" y="486.0" width="0.8" height="0.8"/>
<rect x="605.2" y="434.2" width="0.8" height="0.8"/>
<rect x="566.1" y="407.6" width="0.8" height="0.8"/>
<rect x="617.3" y="486.9" width="0.8" height="0.8"/>
<rect x="611.7" y="394.1" width="0.8" height="0.8"/>
<rect x="543.4" y="448.3" width="0.8" height="0.8"/>
<rect x="587.5" y="407.5" width="0.8" height="0.8"/>
<rect x="588.8" y="479.6" width="0.8" height="0.8"/>
<rect x="618.6" y="430.5" width="0.8" height="0.8"/>
<rect x="617.6" y="481.7" width="0.8" height="0.8"/>
<rect x="585.8" y="418.9" width="0.8" height="0.8"/>
<rect x="619.3" y="441.6" width="0.8" height="0.8"/>
<rect x="619.6" y="441.2" width="0.8" height="0.8"/>
<rect x="544.6" y="453.7" width="0.8" height="0.8"/>
<rect x="602.0" y="473.4" width="0.8" height="0.8"/>
<rect x="535.1" y="445.1" width="0.8" height="0.8"/>
<rect x="557.8" y="483.8" width="0.8" height="0.8"/>
<rect x="602.0" y="417.6" width="0.8" height="0.8"/>
<rect x="557.3" y="408.9" width="0.8" height="0.8"/>
<rect x="620.0" y="422.1" width="0.8" height="0.8"/>
<rect x="598.7" y="405.3" width="0.8" height="0.8"/>
<rect x="537.2" y="418.2" width="0.8" height="0.8"/>
<rect x="573.6" y="482.0" width="0.8" height="0.8"/>
<rect x="611.3" y="446.4" width="0.8" height="0.8"/>
<rect x="535.3" y="468.7" width="0.8" height="0.8"/>
<rect x="575.9" y="481.5" width="0.8" height="0.8"/>
<rect x="608.1" y="412.9" width="0.8" height="0.8"/>
</g>
<g filter="url(#bl05)">
<rect x="552.3" y="422.8" width="51" height="33.6" rx="1.5" fill="#d6d6d6"/>
<rect x="552.3" y="457" width="51" height="11.5" rx="1" fill="#cfcfcf"/>
</g>
<line x1="552.5" y1="456.6" x2="603" y2="456.6" stroke="#555" stroke-width="1"/>
<rect x="555.5" y="448.5" width="3.5" height="3.5" fill="#2a2a2a"/>
<rect x="555.3" y="461" width="3.8" height="3.8" fill="#1a1a1a"/>
<circle cx="564.5" cy="462.8" r="1.2" fill="#333"/>
<circle cx="598.8" cy="462.8" r="1.4" fill="#333"/>
<circle cx="580.0" cy="427.0" r="1.6" fill="#c6c6c6"/>
<circle cx="597.0" cy="427.0" r="1.6" fill="#c6c6c6"/>
<circle cx="566.0" cy="427.0" r="1.6" fill="#c6c6c6"/>
<circle cx="587.0" cy="434.0" r="1.6" fill="#c6c6c6"/>
<circle cx="598.0" cy="437.0" r="1.6" fill="#c6c6c6"/>
<circle cx="583.0" cy="441.0" r="1.6" fill="#c6c6c6"/>
<circle cx="569.0" cy="450.0" r="1.6" fill="#c6c6c6"/>
<circle cx="590.0" cy="451.0" r="1.6" fill="#c6c6c6"/>
<circle cx="598.0" cy="449.0" r="1.6" fill="#c6c6c6"/>
<rect x="649.8" y="445.6" width="57.4" height="85" fill="#050505"/>
<g filter="url(#bl05)">
<path d="M662,481 L665,513 Q677,520 689.7,513 L692.8,481 Z" fill="#1a1a1a"/>
<path d="M663,489 L665,513 Q677,520 689.7,513 L691.8,489 Z" fill="#dfe2e4"/>
<ellipse cx="677" cy="489.5" rx="14.5" ry="3.5" fill="#f2f4f4"/>
<ellipse cx="677" cy="496" rx="12" ry="1.2" fill="#9aa0a0" opacity="0.5"/>
<ellipse cx="677.2" cy="481" rx="15.6" ry="3.8" fill="none" stroke="#8a8a8a" stroke-width="0.8"/>
<line x1="675.8" y1="468" x2="675.4" y2="488" stroke="#d0d0d0" stroke-width="0.9"/>
<path d="M673,459.8 Q684,451.5 695.5,445.3 Q698.5,445.5 697.8,447.5 Q687,456 677.5,465 Z" fill="#e0e0e0"/>
<ellipse cx="674" cy="464.3" rx="7.4" ry="4.6" transform="rotate(-42 674 464.3)" fill="#ececec"/>
</g>
<g fill="none" stroke="#4468b4" stroke-width="1.4" stroke-linecap="round">
<path d="M657.8,263.0 C657.9,258.3 658.2,244.7 658.6,235.0 C659.0,225.3 659.6,212.8 660.2,205.0 C660.8,197.2 660.9,193.5 662.0,188.0 C663.1,182.5 664.7,176.8 667.0,172.0 C669.3,167.2 671.5,163.8 676.0,159.5 C680.5,155.2 687.5,149.9 694.0,146.0 C700.5,142.1 707.5,138.7 714.7,135.9 C721.9,133.2 729.5,131.2 737.0,129.5 C744.5,127.8 751.8,126.5 759.6,125.6 C767.4,124.6 776.6,124.2 784.0,123.8 C791.4,123.4 800.7,123.5 804.0,123.4"/>
<path d="M696.3,333.9 C700.5,333.6 713.8,333.2 721.3,332.3 C728.8,331.4 735.6,330.3 741.6,328.4 C747.6,326.4 752.0,323.3 757.2,320.6 C762.4,317.9 767.1,314.1 772.8,312.2 C778.5,310.2 785.6,309.6 791.6,308.9 C797.6,308.2 806.1,308.1 809.0,308.0"/>
<path d="M634.6,398.0 C641.0,398.6 660.8,397.7 673.0,401.3 C685.2,404.9 698.8,413.3 707.7,419.9 C716.6,426.5 721.9,434.5 726.3,441.1 C730.7,447.7 728.9,453.5 734.2,459.7 C739.5,465.9 748.2,473.6 758.0,478.3 C767.8,483.0 783.2,485.7 792.7,487.6 C802.2,489.5 811.3,489.4 815.0,489.8"/>
<path d="M714.3,488.4 C718.5,488.9 731.4,489.7 739.6,491.6 C747.8,493.5 757.8,496.5 763.5,500.0 C769.2,503.5 769.1,509.0 774.0,512.4 C778.9,515.8 786.0,518.8 792.7,520.6 C799.4,522.4 810.5,522.6 814.0,523.0"/>
</g>
<polygon points="811.0,123.3 804.1,126.7 803.9,120.3" fill="#4468b4"/>
<polygon points="816.5,307.8 809.6,311.2 809.4,304.8" fill="#4468b4"/>
<polygon points="822.5,490.3 815.3,492.9 815.8,486.6" fill="#4468b4"/>
<polygon points="821.0,523.6 813.7,526.2 814.3,519.8" fill="#4468b4"/>
<path d="M883.8,198.1 L892,198.1 L892,222.9 L896,222.9 L888,230.8 L880,222.9 L883.8,222.9 Z" fill="#17a2e4"/>
<path d="M883.8,396.2 L892,396.2 L892,420.4 L896,420.4 L888,428.9 L880,420.4 L883.8,420.4 Z" fill="#17a2e4"/>
<g fill="none" stroke="#5646b4" stroke-width="2.65" stroke-linecap="round" stroke-linejoin="round"><path d="M836.0,35.0 C835.2,34.4 832.4,31.8 831.0,31.5 C829.6,31.2 828.3,32.0 827.5,33.5 C826.7,35.0 825.8,38.6 826.0,40.5 C826.2,42.4 827.7,42.2 829.0,45.0 C830.3,47.8 832.6,52.5 834.0,57.0 C835.4,61.5 836.6,66.7 837.4,72.0 C838.2,77.3 838.5,83.7 838.8,89.0 C839.1,94.3 838.8,99.2 839.0,104.0 C839.2,108.8 839.5,114.2 840.0,118.0 C840.5,121.8 840.7,125.0 842.0,127.0 C843.3,129.0 847.0,129.5 848.0,130.0"/><path d="M826.0,41.0 C828.7,41.9 837.4,44.1 842.4,46.2 C847.4,48.3 852.6,50.4 856.0,53.5 C859.4,56.6 862.1,60.8 862.9,65.0 C863.6,69.2 861.5,74.9 860.5,78.7 C859.5,82.5 856.9,85.6 857.0,88.0 C857.1,90.4 859.2,91.2 861.0,93.0 C862.8,94.8 864.3,97.2 867.8,99.0 C871.3,100.8 877.5,102.7 881.8,104.0 C886.1,105.3 889.1,106.7 893.7,107.0 C898.4,107.3 905.1,106.1 909.7,106.0 C914.3,105.9 916.9,106.0 921.4,106.2 C925.9,106.4 931.9,106.7 936.5,107.1 C941.1,107.5 946.5,108.1 949.3,108.8 C952.1,109.5 952.7,110.8 953.4,111.2"/><path d="M814.8,83.0 C817.3,81.4 823.6,77.2 830.0,73.6 C836.4,70.0 847.5,64.5 853.3,61.4 C859.1,58.3 861.4,56.5 864.9,55.2 C868.4,53.9 871.7,53.9 874.2,53.6 C876.7,53.3 878.1,53.3 880.0,53.6 C881.9,53.9 882.5,53.9 885.8,55.6 C889.1,57.3 895.8,61.3 899.8,63.7 C903.8,66.1 907.0,68.1 910.0,70.0 C913.0,71.9 915.8,73.7 918.0,75.0 C920.2,76.3 922.2,77.5 923.0,78.0"/><path d="M813.0,124.0 C815.2,122.7 821.7,119.2 826.0,116.0 C830.3,112.8 834.2,109.2 839.0,105.0 C843.8,100.8 850.7,95.8 855.0,91.0 C859.3,86.2 862.3,80.5 864.9,76.5 C867.5,72.5 868.2,70.8 870.7,67.2 C873.2,63.6 877.1,58.1 880.0,55.0 C882.9,51.9 884.7,51.0 888.0,48.6 C891.3,46.2 895.3,43.0 899.8,40.5 C904.3,38.0 912.5,34.7 915.0,33.5"/><path d="M942.0,44.0 C938.7,44.6 927.0,45.8 922.0,47.6 C917.0,49.4 913.3,51.9 912.0,55.0 C910.7,58.1 912.8,62.7 914.0,66.0 C915.2,69.3 917.5,73.0 919.0,75.0 C920.5,77.0 920.7,78.0 923.0,78.0 C925.3,78.0 929.3,76.1 933.0,75.0 C936.7,73.9 941.5,72.4 945.0,71.5 C948.5,70.6 951.4,69.8 954.0,69.5 C956.6,69.2 959.0,68.0 960.5,69.5 C962.0,71.0 962.9,74.6 963.0,78.7 C963.1,82.8 962.2,89.6 961.0,94.0 C959.8,98.4 957.3,102.2 956.0,105.0 C954.7,107.8 953.0,109.6 953.0,111.0 C953.0,112.4 956.1,112.7 956.0,113.5 C955.9,114.3 953.1,115.6 952.5,116.0"/><path d="M923.0,78.0 C922.0,79.3 919.1,82.8 916.7,85.6 C914.3,88.4 911.5,92.0 908.6,94.9 C905.7,97.8 901.8,101.0 899.3,103.0 C896.8,105.0 896.6,106.0 893.7,107.0 C890.8,108.0 885.4,107.7 881.8,109.0 C878.1,110.3 874.9,112.7 871.8,115.0 C868.6,117.3 865.5,120.3 862.9,123.0 C860.3,125.7 858.5,129.8 856.0,131.0 C853.5,132.2 849.3,130.2 848.0,130.0"/><path d="M816.0,122.4 C817.3,122.7 820.4,123.0 824.0,124.0 C827.6,125.0 833.4,126.7 837.4,128.4 C841.4,130.1 843.8,132.0 848.0,134.0 C852.2,136.0 857.8,138.8 862.8,140.4 C867.8,142.0 874.2,143.3 877.7,143.3 C881.2,143.3 882.2,142.3 883.7,140.4 C885.2,138.5 885.8,135.2 886.8,131.8 C887.8,128.4 888.6,124.1 889.8,120.0 C890.9,115.9 893.1,109.2 893.7,107.0"/><path d="M893.7,107.0 C896.0,108.3 903.4,112.1 907.4,114.7 C911.4,117.3 915.0,119.8 917.9,122.8 C920.8,125.8 923.1,129.1 925.0,133.0 C926.9,136.9 928.3,141.5 929.0,146.0 C929.7,150.5 929.8,155.7 929.0,160.0 C928.2,164.3 926.3,168.5 924.0,172.0 C921.7,175.5 917.7,178.7 915.0,181.0 C912.3,183.3 909.1,185.2 907.9,186.0"/><path d="M816.4,124.0 C816.5,125.5 816.2,130.0 817.2,133.0 C818.2,136.0 819.5,139.3 822.4,142.0 C825.3,144.7 829.9,146.8 834.4,149.3 C838.9,151.8 843.8,155.1 849.3,156.8 C854.8,158.6 861.6,159.2 867.3,159.8 C873.0,160.4 878.2,160.5 883.7,160.5 C889.2,160.5 894.1,160.2 900.0,159.8 C905.9,159.4 915.8,158.3 919.0,158.0"/><path d="M812.0,173.5 C815.0,172.2 823.9,168.2 829.9,165.8 C835.9,163.4 841.6,161.2 847.8,159.0 C854.0,156.8 861.3,154.4 867.3,152.3 C873.3,150.2 878.2,148.3 883.7,146.3 C889.2,144.3 894.3,142.6 900.0,140.4 C905.7,138.2 912.9,135.2 918.0,133.0 C923.1,130.8 926.7,129.3 930.7,127.4 C934.8,125.5 938.8,123.2 942.3,121.6 C945.8,120.0 950.0,118.3 951.6,117.6"/><path d="M816.4,122.4 C815.7,123.2 813.0,124.5 812.0,127.0 C811.0,129.5 810.3,133.7 810.2,137.4 C810.1,141.1 810.5,145.6 811.2,149.3 C811.9,153.0 813.6,157.5 814.2,159.8 C814.8,162.1 814.9,162.5 815.0,163.0"/></g>
<circle cx="825.5" cy="41.1" r="4.2" fill="url(#gb)"/>
<circle cx="852.9" cy="61.7" r="3.6" fill="url(#gb)"/>
<circle cx="879.6" cy="51.6" r="3.6" fill="url(#gb)"/>
<circle cx="871.2" cy="70.2" r="3.8" fill="url(#gb)"/>
<circle cx="893.8" cy="65.6" r="3.8" fill="url(#gb)"/>
<circle cx="841.9" cy="85.5" r="4.2" fill="url(#gb)"/>
<circle cx="860.8" cy="87.4" r="4.2" fill="url(#gb)"/>
<circle cx="905.0" cy="34.8" r="3.6" fill="url(#gb)"/>
<circle cx="915.0" cy="57.6" r="3.8" fill="url(#gb)"/>
<circle cx="937.4" cy="49.8" r="3.6" fill="url(#gb)"/>
<circle cx="923.3" cy="77.6" r="4.0" fill="url(#gb)"/>
<circle cx="954.0" cy="69.8" r="4.5" fill="url(#gb)"/>
<circle cx="964.4" cy="92.0" r="4.6" fill="url(#gb)"/>
<circle cx="901.8" cy="93.8" r="4.3" fill="url(#gb)"/>
<circle cx="921.6" cy="106.9" r="4.6" fill="url(#gb)"/>
<circle cx="951.6" cy="117.4" r="5.0" fill="url(#gb)"/>
<circle cx="870.9" cy="102.5" r="4.4" fill="url(#gb)"/>
<circle cx="863.6" cy="115.6" r="4.4" fill="url(#gb)"/>
<circle cx="847.6" cy="129.4" r="4.8" fill="url(#gb)"/>
<circle cx="878.8" cy="134.2" r="5.0" fill="url(#gb)"/>
<circle cx="832.0" cy="140.5" r="4.8" fill="url(#gb)"/>
<circle cx="823.6" cy="121.0" r="4.5" fill="url(#gb)"/>
<circle cx="804.7" cy="132.6" r="4.0" fill="url(#gb)"/>
<circle cx="815.0" cy="162.9" r="6.0" fill="url(#gb)"/>
<circle cx="838.8" cy="164.9" r="6.0" fill="url(#gb)"/>
<circle cx="880.2" cy="156.8" r="5.4" fill="url(#gb)"/>
<circle cx="919.2" cy="161.9" r="5.5" fill="url(#gb)"/>
<circle cx="919.2" cy="136.5" r="5.0" fill="url(#gb)"/>
<circle cx="821.4" cy="81.6" r="4.0" fill="url(#gb)"/>
<g fill="none" stroke="#5646b4" stroke-width="2.45" stroke-linecap="round" stroke-linejoin="round"><path d="M852.9,243.3 C852.0,242.8 849.2,240.5 847.9,240.3 C846.6,240.1 845.6,240.7 845.1,242.0 C844.6,243.3 844.4,246.3 844.8,247.9 C845.2,249.6 846.5,249.4 847.7,251.8 C849.0,254.2 851.1,258.3 852.2,262.3 C853.4,266.3 854.2,270.8 854.6,275.8 C854.9,280.7 854.6,286.6 854.4,291.9 C854.1,297.2 853.3,302.4 853.0,307.5 C852.8,312.7 852.7,318.6 852.9,322.9 C853.2,327.1 853.3,330.6 854.5,332.9 C855.7,335.1 859.2,335.8 860.1,336.4"/><path d="M844.8,248.3 C847.3,249.1 855.0,251.1 859.6,253.0 C864.2,254.8 869.1,256.5 872.3,259.4 C875.4,262.3 877.9,266.2 878.4,270.2 C878.9,274.1 876.5,279.5 875.4,283.2 C874.2,286.9 871.5,289.8 871.4,292.2 C871.3,294.6 873.2,295.6 874.8,297.6 C876.3,299.6 877.6,302.1 880.6,304.3 C883.7,306.5 889.3,308.8 893.2,310.5 C897.1,312.2 899.7,313.8 903.9,314.5 C908.1,315.2 914.2,314.5 918.4,314.8 C922.6,315.1 924.9,315.5 928.9,316.1 C932.9,316.7 938.3,317.6 942.5,318.5 C946.6,319.4 951.4,320.5 953.8,321.4 C956.3,322.4 956.8,323.8 957.3,324.2"/><path d="M832.5,285.5 C835.0,284.1 841.5,280.2 847.6,277.0 C853.8,273.9 864.1,269.2 869.6,266.6 C875.1,263.9 877.3,262.2 880.6,261.0 C883.9,259.8 887.1,259.8 889.5,259.6 C892.0,259.3 893.3,259.3 895.1,259.6 C897.0,260.0 897.6,259.9 900.5,261.7 C903.5,263.5 909.5,267.8 913.0,270.5 C916.5,273.2 919.1,275.6 921.7,277.8 C924.2,280.0 926.5,282.1 928.3,283.7 C930.1,285.3 931.7,286.7 932.4,287.3"/><path d="M826.5,327.5 C828.6,326.2 834.9,322.9 839.3,319.7 C843.7,316.6 847.9,312.7 852.9,308.6 C857.9,304.5 864.9,299.6 869.3,295.1 C873.8,290.5 876.9,285.1 879.6,281.3 C882.3,277.6 883.0,275.9 885.5,272.6 C888.1,269.2 892.1,263.9 895.0,261.0 C898.0,258.0 899.8,257.2 903.2,254.8 C906.6,252.5 910.8,249.3 915.4,247.0 C920.0,244.6 928.3,241.7 930.9,240.6"/><path d="M954.4,254.7 C951.3,254.8 940.6,254.4 935.7,255.7 C930.9,257.0 927.1,259.3 925.4,262.4 C923.8,265.4 925.2,270.4 925.8,274.0 C926.4,277.6 928.1,281.6 929.2,283.8 C930.3,286.0 930.3,287.1 932.4,287.3 C934.5,287.5 938.4,285.9 941.8,285.0 C945.2,284.2 949.8,282.9 953.0,282.2 C956.2,281.5 958.9,280.9 961.2,280.7 C963.6,280.5 965.8,279.3 967.0,281.0 C968.2,282.7 968.6,286.4 968.3,290.7 C968.0,295.0 966.7,302.2 965.3,306.8 C963.9,311.3 961.5,315.1 960.1,318.0 C958.7,320.9 957.1,322.5 957.0,324.0 C956.9,325.4 959.6,325.9 959.5,326.7 C959.3,327.5 956.7,328.5 956.2,328.9"/><path d="M932.4,287.3 C931.4,288.5 928.5,291.9 926.1,294.6 C923.7,297.3 921.0,300.7 918.1,303.4 C915.3,306.1 911.6,309.0 909.2,310.9 C906.8,312.7 906.6,313.7 903.9,314.5 C901.1,315.3 896.3,314.6 892.9,315.7 C889.4,316.8 886.3,319.1 883.2,321.3 C880.1,323.6 877.0,326.6 874.4,329.3 C871.8,332.1 869.9,336.4 867.5,337.6 C865.1,338.8 861.3,336.6 860.1,336.4"/><path d="M829.3,326.0 C830.6,326.4 833.6,327.1 837.1,328.5 C840.5,329.8 846.3,332.2 850.1,334.3 C853.9,336.3 856.1,338.5 860.0,340.7 C863.8,342.9 868.7,345.8 873.1,347.4 C877.5,349.1 883.1,350.5 886.3,350.5 C889.4,350.6 890.5,349.7 892.0,347.8 C893.6,345.9 894.5,342.7 895.7,339.3 C896.9,335.9 898.0,331.6 899.4,327.5 C900.8,323.4 903.1,316.7 903.9,314.5"/><path d="M903.9,314.5 C905.9,316.0 912.3,320.4 915.8,323.4 C919.3,326.4 922.3,329.1 924.7,332.3 C927.1,335.5 929.0,338.9 930.3,342.8 C931.6,346.6 932.5,351.1 932.6,355.4 C932.6,359.8 932.0,364.6 930.6,368.7 C929.1,372.8 926.6,376.6 923.7,379.9 C920.9,383.1 916.5,385.9 913.5,388.0 C910.5,390.1 907.2,391.6 905.9,392.3"/><path d="M829.6,327.8 C829.8,329.5 829.7,334.6 830.8,338.1 C831.9,341.5 833.5,345.5 836.3,348.6 C839.0,351.6 843.3,354.0 847.2,356.5 C851.1,358.9 855.0,361.7 859.7,363.3 C864.3,365.0 870.0,365.6 875.0,366.2 C879.9,366.9 884.5,367.1 889.4,367.2 C894.2,367.4 898.8,367.2 904.2,367.0 C909.6,366.8 919.0,366.2 922.0,366.0"/><path d="M822.7,371.4 C825.8,371.2 835.7,371.4 841.7,370.4 C847.6,369.4 852.4,367.2 858.1,365.3 C863.8,363.4 870.4,361.1 876.0,359.2 C881.5,357.2 886.2,355.4 891.4,353.6 C896.5,351.8 901.5,350.2 906.9,348.3 C912.4,346.4 919.2,343.9 924.0,342.2 C928.8,340.5 932.1,339.4 935.9,337.9 C939.6,336.5 943.4,334.7 946.7,333.5 C949.9,332.2 953.8,330.9 955.3,330.4"/><path d="M829.6,326.0 C829.0,326.8 826.5,328.1 825.6,330.8 C824.7,333.5 824.4,338.1 824.4,342.1 C824.5,346.1 825.2,351.0 825.9,354.8 C826.6,358.6 828.1,362.8 828.6,364.9 C829.0,367.0 828.8,367.0 828.9,367.4"/></g>
<g fill="none" stroke="#5646b4" stroke-width="2.45" stroke-linecap="round" stroke-linejoin="round"><path d="M863.0,436.4 C862.2,435.8 859.7,433.2 858.6,433.0 C857.4,432.7 856.5,433.4 856.1,434.8 C855.6,436.2 855.4,439.6 855.7,441.4 C856.1,443.2 857.2,443.1 858.1,445.6 C859.0,448.1 860.5,452.4 861.1,456.4 C861.7,460.5 862.0,465.0 861.9,469.7 C861.9,474.4 861.2,479.9 860.8,484.5 C860.4,489.2 859.7,493.3 859.4,497.5 C859.2,501.7 859.1,506.2 859.3,509.5 C859.5,512.7 859.5,515.4 860.7,517.1 C861.8,518.8 865.2,519.4 866.0,519.9"/><path d="M855.8,441.9 C857.9,442.7 864.6,445.0 868.5,447.0 C872.4,449.0 876.7,451.1 879.3,454.0 C881.9,456.9 883.9,460.7 884.1,464.4 C884.4,468.1 882.0,473.0 880.8,476.4 C879.6,479.7 877.0,482.3 876.9,484.3 C876.7,486.4 878.5,487.2 879.9,488.8 C881.4,490.5 882.6,492.5 885.5,494.2 C888.5,495.9 894.0,497.7 897.8,499.0 C901.6,500.3 904.3,501.5 908.5,501.9 C912.7,502.3 918.9,501.5 923.1,501.5 C927.4,501.5 929.8,501.6 934.0,501.9 C938.3,502.2 944.0,502.6 948.5,503.1 C953.1,503.6 958.3,504.3 961.1,505.0 C963.8,505.7 964.4,506.8 965.1,507.2"/><path d="M840.4,478.0 C842.9,476.8 849.3,473.6 855.3,470.8 C861.3,467.9 871.2,463.4 876.4,460.9 C881.6,458.4 883.6,456.8 886.7,455.8 C889.8,454.8 892.7,454.9 894.9,454.8 C897.1,454.6 898.3,454.6 900.0,455.0 C901.7,455.4 902.2,455.4 904.9,457.0 C907.6,458.5 913.0,462.3 916.3,464.5 C919.5,466.7 922.0,468.5 924.4,470.2 C926.9,471.8 929.2,473.4 931.0,474.6 C932.8,475.8 934.6,476.9 935.3,477.3"/><path d="M834.6,513.1 C836.7,512.1 842.6,509.6 846.7,507.2 C850.8,504.7 854.7,501.7 859.3,498.4 C864.0,495.0 870.6,490.8 874.8,486.9 C879.1,482.9 882.1,478.0 884.7,474.6 C887.4,471.2 888.0,469.7 890.6,466.6 C893.1,463.5 897.0,458.8 899.8,456.2 C902.7,453.6 904.4,452.9 907.7,450.9 C911.0,449.0 915.1,446.4 919.7,444.4 C924.3,442.5 932.7,440.0 935.3,439.1"/><path d="M959.3,449.0 C956.0,449.4 944.6,450.0 939.5,451.4 C934.4,452.8 930.5,454.8 928.7,457.4 C926.9,460.0 928.1,464.0 928.6,466.8 C929.2,469.7 930.8,472.9 931.9,474.6 C933.0,476.4 933.1,477.2 935.3,477.3 C937.6,477.4 941.7,475.8 945.5,475.0 C949.3,474.2 954.4,473.0 958.1,472.3 C961.7,471.6 964.8,471.0 967.5,470.8 C970.1,470.6 972.6,469.6 974.0,471.0 C975.4,472.4 975.9,475.5 975.6,479.0 C975.4,482.6 974.1,488.5 972.7,492.3 C971.4,496.1 968.9,499.4 967.6,501.8 C966.2,504.3 964.7,505.8 964.7,507.0 C964.7,508.3 967.7,508.6 967.6,509.3 C967.5,510.1 964.8,511.1 964.3,511.4"/><path d="M935.3,477.3 C934.3,478.4 931.4,481.4 929.2,483.8 C926.9,486.2 924.4,489.2 921.8,491.7 C919.2,494.2 915.8,496.9 913.5,498.6 C911.3,500.3 911.2,501.1 908.5,501.9 C905.9,502.7 901.1,502.3 897.7,503.3 C894.4,504.4 891.4,506.3 888.5,508.2 C885.5,510.0 882.6,512.5 880.0,514.6 C877.5,516.8 875.7,520.2 873.4,521.1 C871.0,522.0 867.3,520.1 866.0,519.9"/><path d="M837.4,512.0 C838.5,512.3 841.3,512.7 844.4,513.7 C847.6,514.8 852.8,516.5 856.4,518.0 C860.0,519.6 862.1,521.3 865.9,523.2 C869.7,525.1 874.8,527.7 879.3,529.3 C883.9,530.8 890.0,532.3 893.3,532.5 C896.6,532.7 897.6,531.9 899.1,530.4 C900.6,528.8 901.3,526.0 902.3,523.1 C903.3,520.3 904.0,516.6 905.1,513.1 C906.1,509.5 907.9,503.8 908.5,501.9"/><path d="M908.5,501.9 C910.7,503.1 917.5,506.6 921.4,509.0 C925.2,511.4 928.7,513.7 931.7,516.4 C934.6,519.2 937.0,522.2 938.9,525.6 C940.8,529.1 942.4,533.2 942.9,537.1 C943.5,541.1 943.4,545.6 942.3,549.3 C941.1,553.0 938.6,556.5 935.8,559.4 C933.0,562.3 928.4,564.8 925.4,566.6 C922.3,568.4 918.8,569.8 917.5,570.4"/><path d="M837.6,513.3 C837.7,514.5 837.2,518.2 838.0,520.7 C838.8,523.1 839.9,525.8 842.4,528.2 C844.9,530.6 849.1,532.5 853.0,534.8 C857.0,537.1 861.3,540.2 866.2,542.0 C871.1,543.8 877.2,544.8 882.5,545.7 C887.8,546.6 892.7,547.0 898.0,547.4 C903.2,547.7 908.1,547.8 914.0,547.8 C919.8,547.7 930.0,547.3 933.2,547.2"/><path d="M832.5,552.4 C835.2,551.6 843.1,549.2 848.5,547.7 C853.9,546.3 859.0,545.0 864.7,543.6 C870.5,542.3 877.3,540.8 883.0,539.5 C888.7,538.1 893.6,536.8 898.9,535.4 C904.3,534.0 909.4,532.8 915.0,531.1 C920.6,529.5 927.4,527.1 932.3,525.4 C937.1,523.7 940.3,522.4 944.0,520.9 C947.7,519.3 951.4,517.4 954.7,516.1 C957.9,514.7 962.0,513.4 963.4,512.8"/><path d="M837.7,512.0 C837.0,512.6 834.6,513.5 833.6,515.4 C832.6,517.4 831.9,520.7 831.7,523.7 C831.5,526.6 831.9,530.2 832.4,533.2 C832.9,536.2 834.3,539.8 834.8,541.7 C835.4,543.5 835.4,543.8 835.5,544.3"/></g>
<path d="M835.5,544.3 Q836.0,550.3 838.5,553" fill="none" stroke="#5646b4" stroke-width="2.45" stroke-linecap="round"/>
<circle cx="867.9" cy="247.4" r="1.4" fill="#b02478"/>
<circle cx="842.4" cy="259.7" r="1.4" fill="#b02478"/>
<circle cx="857.5" cy="258.7" r="1.4" fill="#b02478"/>
<circle cx="837.5" cy="272.4" r="1.4" fill="#b02478"/>
<circle cx="867.1" cy="280.9" r="1.4" fill="#b02478"/>
<circle cx="861.5" cy="304.9" r="1.4" fill="#b02478"/>
<circle cx="809.2" cy="316.9" r="1.4" fill="#b02478"/>
<circle cx="898.9" cy="274.5" r="1.4" fill="#b02478"/>
<circle cx="923.9" cy="251.7" r="1.4" fill="#b02478"/>
<circle cx="912.6" cy="259.0" r="1.4" fill="#b02478"/>
<circle cx="942.3" cy="271.0" r="1.4" fill="#b02478"/>
<circle cx="937.3" cy="277.4" r="1.4" fill="#b02478"/>
<circle cx="930.3" cy="308.4" r="1.4" fill="#b02478"/>
<circle cx="843.2" cy="324.2" r="1.4" fill="#b02478"/>
<circle cx="879.6" cy="335.7" r="1.4" fill="#b02478"/>
<circle cx="834.2" cy="357.9" r="1.4" fill="#b02478"/>
<circle cx="870.1" cy="353.7" r="1.4" fill="#b02478"/>
<circle cx="843.6" cy="378.9" r="1.4" fill="#b02478"/>
<circle cx="891.5" cy="380.4" r="1.4" fill="#b02478"/>
<circle cx="910.2" cy="331.0" r="1.4" fill="#b02478"/>
<circle cx="936.4" cy="329.5" r="1.4" fill="#b02478"/>
<circle cx="959.6" cy="347.7" r="1.4" fill="#b02478"/>
<circle cx="911.7" cy="354.9" r="1.4" fill="#b02478"/>
<circle cx="943.1" cy="368.4" r="1.4" fill="#b02478"/>
<circle cx="892.2" cy="380.4" r="1.4" fill="#b02478"/>
<g transform="translate(884.8,245.6) scale(1.00)"><circle r="3.4" fill="#d89c2e"/><circle cx="2.9" cy="0.9" r="1.6" fill="#d49a34"/><circle cx="4.2" cy="1.3" r="1.05" fill="#7c2c40"/><circle cx="0.7" cy="2.9" r="1.6" fill="#d49a34"/><circle cx="1.0" cy="4.3" r="1.05" fill="#7c2c40"/><circle cx="-2.2" cy="2.0" r="1.6" fill="#d49a34"/><circle cx="-3.2" cy="3.0" r="1.05" fill="#7c2c40"/><circle cx="-2.9" cy="-0.9" r="1.6" fill="#d49a34"/><circle cx="-4.2" cy="-1.3" r="1.05" fill="#7c2c40"/><circle cx="-0.7" cy="-2.9" r="1.6" fill="#d49a34"/><circle cx="-1.0" cy="-4.3" r="1.05" fill="#7c2c40"/><circle cx="2.2" cy="-2.0" r="1.6" fill="#d49a34"/><circle cx="3.2" cy="-3.0" r="1.05" fill="#7c2c40"/><circle cx="-0.6" cy="-0.6" r="1.4" fill="#e4b440"/></g>
<g transform="translate(817.7,269.6) scale(1.00)"><circle r="3.4" fill="#d89c2e"/><circle cx="2.9" cy="0.9" r="1.6" fill="#d49a34"/><circle cx="4.2" cy="1.3" r="1.05" fill="#7c2c40"/><circle cx="0.7" cy="2.9" r="1.6" fill="#d49a34"/><circle cx="1.0" cy="4.3" r="1.05" fill="#7c2c40"/><circle cx="-2.2" cy="2.0" r="1.6" fill="#d49a34"/><circle cx="-3.2" cy="3.0" r="1.05" fill="#7c2c40"/><circle cx="-2.9" cy="-0.9" r="1.6" fill="#d49a34"/><circle cx="-4.2" cy="-1.3" r="1.05" fill="#7c2c40"/><circle cx="-0.7" cy="-2.9" r="1.6" fill="#d49a34"/><circle cx="-1.0" cy="-4.3" r="1.05" fill="#7c2c40"/><circle cx="2.2" cy="-2.0" r="1.6" fill="#d49a34"/><circle cx="3.2" cy="-3.0" r="1.05" fill="#7c2c40"/><circle cx="-0.6" cy="-0.6" r="1.4" fill="#e4b440"/></g>
<g transform="translate(889.7,295.7) scale(1.00)"><circle r="3.4" fill="#d89c2e"/><circle cx="2.9" cy="0.9" r="1.6" fill="#d49a34"/><circle cx="4.2" cy="1.3" r="1.05" fill="#7c2c40"/><circle cx="0.7" cy="2.9" r="1.6" fill="#d49a34"/><circle cx="1.0" cy="4.3" r="1.05" fill="#7c2c40"/><circle cx="-2.2" cy="2.0" r="1.6" fill="#d49a34"/><circle cx="-3.2" cy="3.0" r="1.05" fill="#7c2c40"/><circle cx="-2.9" cy="-0.9" r="1.6" fill="#d49a34"/><circle cx="-4.2" cy="-1.3" r="1.05" fill="#7c2c40"/><circle cx="-0.7" cy="-2.9" r="1.6" fill="#d49a34"/><circle cx="-1.0" cy="-4.3" r="1.05" fill="#7c2c40"/><circle cx="2.2" cy="-2.0" r="1.6" fill="#d49a34"/><circle cx="3.2" cy="-3.0" r="1.05" fill="#7c2c40"/><circle cx="-0.6" cy="-0.6" r="1.4" fill="#e4b440"/></g>
<g transform="translate(830.4,301.4) scale(1.00)"><circle r="3.4" fill="#d89c2e"/><circle cx="2.9" cy="0.9" r="1.6" fill="#d49a34"/><circle cx="4.2" cy="1.3" r="1.05" fill="#7c2c40"/><circle cx="0.7" cy="2.9" r="1.6" fill="#d49a34"/><circle cx="1.0" cy="4.3" r="1.05" fill="#7c2c40"/><circle cx="-2.2" cy="2.0" r="1.6" fill="#d49a34"/><circle cx="-3.2" cy="3.0" r="1.05" fill="#7c2c40"/><circle cx="-2.9" cy="-0.9" r="1.6" fill="#d49a34"/><circle cx="-4.2" cy="-1.3" r="1.05" fill="#7c2c40"/><circle cx="-0.7" cy="-2.9" r="1.6" fill="#d49a34"/><circle cx="-1.0" cy="-4.3" r="1.05" fill="#7c2c40"/><circle cx="2.2" cy="-2.0" r="1.6" fill="#d49a34"/><circle cx="3.2" cy="-3.0" r="1.05" fill="#7c2c40"/><circle cx="-0.6" cy="-0.6" r="1.4" fill="#e4b440"/></g>
<g transform="translate(865.6,320.5) scale(1.00)"><circle r="3.4" fill="#d89c2e"/><circle cx="2.9" cy="0.9" r="1.6" fill="#d49a34"/><circle cx="4.2" cy="1.3" r="1.05" fill="#7c2c40"/><circle cx="0.7" cy="2.9" r="1.6" fill="#d49a34"/><circle cx="1.0" cy="4.3" r="1.05" fill="#7c2c40"/><circle cx="-2.2" cy="2.0" r="1.6" fill="#d49a34"/><circle cx="-3.2" cy="3.0" r="1.05" fill="#7c2c40"/><circle cx="-2.9" cy="-0.9" r="1.6" fill="#d49a34"/><circle cx="-4.2" cy="-1.3" r="1.05" fill="#7c2c40"/><circle cx="-0.7" cy="-2.9" r="1.6" fill="#d49a34"/><circle cx="-1.0" cy="-4.3" r="1.05" fill="#7c2c40"/><circle cx="2.2" cy="-2.0" r="1.6" fill="#d49a34"/><circle cx="3.2" cy="-3.0" r="1.05" fill="#7c2c40"/><circle cx="-0.6" cy="-0.6" r="1.4" fill="#e4b440"/></g>
<g transform="translate(907.7,285.1) scale(1.00)"><circle r="3.4" fill="#d89c2e"/><circle cx="2.9" cy="0.9" r="1.6" fill="#d49a34"/><circle cx="4.2" cy="1.3" r="1.05" fill="#7c2c40"/><circle cx="0.7" cy="2.9" r="1.6" fill="#d49a34"/><circle cx="1.0" cy="4.3" r="1.05" fill="#7c2c40"/><circle cx="-2.2" cy="2.0" r="1.6" fill="#d49a34"/><circle cx="-3.2" cy="3.0" r="1.05" fill="#7c2c40"/><circle cx="-2.9" cy="-0.9" r="1.6" fill="#d49a34"/><circle cx="-4.2" cy="-1.3" r="1.05" fill="#7c2c40"/><circle cx="-0.7" cy="-2.9" r="1.6" fill="#d49a34"/><circle cx="-1.0" cy="-4.3" r="1.05" fill="#7c2c40"/><circle cx="2.2" cy="-2.0" r="1.6" fill="#d49a34"/><circle cx="3.2" cy="-3.0" r="1.05" fill="#7c2c40"/><circle cx="-0.6" cy="-0.6" r="1.4" fill="#e4b440"/></g>
<g transform="translate(943.0,304.9) scale(1.00)"><circle r="3.4" fill="#d89c2e"/><circle cx="2.9" cy="0.9" r="1.6" fill="#d49a34"/><circle cx="4.2" cy="1.3" r="1.05" fill="#7c2c40"/><circle cx="0.7" cy="2.9" r="1.6" fill="#d49a34"/><circle cx="1.0" cy="4.3" r="1.05" fill="#7c2c40"/><circle cx="-2.2" cy="2.0" r="1.6" fill="#d49a34"/><circle cx="-3.2" cy="3.0" r="1.05" fill="#7c2c40"/><circle cx="-2.9" cy="-0.9" r="1.6" fill="#d49a34"/><circle cx="-4.2" cy="-1.3" r="1.05" fill="#7c2c40"/><circle cx="-0.7" cy="-2.9" r="1.6" fill="#d49a34"/><circle cx="-1.0" cy="-4.3" r="1.05" fill="#7c2c40"/><circle cx="2.2" cy="-2.0" r="1.6" fill="#d49a34"/><circle cx="3.2" cy="-3.0" r="1.05" fill="#7c2c40"/><circle cx="-0.6" cy="-0.6" r="1.4" fill="#e4b440"/></g>
<g transform="translate(852.9,346.7) scale(1.00)"><circle r="3.4" fill="#d89c2e"/><circle cx="2.9" cy="0.9" r="1.6" fill="#d49a34"/><circle cx="4.2" cy="1.3" r="1.05" fill="#7c2c40"/><circle cx="0.7" cy="2.9" r="1.6" fill="#d49a34"/><circle cx="1.0" cy="4.3" r="1.05" fill="#7c2c40"/><circle cx="-2.2" cy="2.0" r="1.6" fill="#d49a34"/><circle cx="-3.2" cy="3.0" r="1.05" fill="#7c2c40"/><circle cx="-2.9" cy="-0.9" r="1.6" fill="#d49a34"/><circle cx="-4.2" cy="-1.3" r="1.05" fill="#7c2c40"/><circle cx="-0.7" cy="-2.9" r="1.6" fill="#d49a34"/><circle cx="-1.0" cy="-4.3" r="1.05" fill="#7c2c40"/><circle cx="2.2" cy="-2.0" r="1.6" fill="#d49a34"/><circle cx="3.2" cy="-3.0" r="1.05" fill="#7c2c40"/><circle cx="-0.6" cy="-0.6" r="1.4" fill="#e4b440"/></g>
<g transform="translate(869.4,384.1) scale(1.00)"><circle r="3.4" fill="#d89c2e"/><circle cx="2.9" cy="0.9" r="1.6" fill="#d49a34"/><circle cx="4.2" cy="1.3" r="1.05" fill="#7c2c40"/><circle cx="0.7" cy="2.9" r="1.6" fill="#d49a34"/><circle cx="1.0" cy="4.3" r="1.05" fill="#7c2c40"/><circle cx="-2.2" cy="2.0" r="1.6" fill="#d49a34"/><circle cx="-3.2" cy="3.0" r="1.05" fill="#7c2c40"/><circle cx="-2.9" cy="-0.9" r="1.6" fill="#d49a34"/><circle cx="-4.2" cy="-1.3" r="1.05" fill="#7c2c40"/><circle cx="-0.7" cy="-2.9" r="1.6" fill="#d49a34"/><circle cx="-1.0" cy="-4.3" r="1.05" fill="#7c2c40"/><circle cx="2.2" cy="-2.0" r="1.6" fill="#d49a34"/><circle cx="3.2" cy="-3.0" r="1.05" fill="#7c2c40"/><circle cx="-0.6" cy="-0.6" r="1.4" fill="#e4b440"/></g>
<circle cx="844.5" cy="248.4" r="3.6" fill="url(#gb)"/>
<circle cx="869.9" cy="270.6" r="1.1" fill="#7c2c40"/>
<circle cx="864.0" cy="271.7" r="1.1" fill="#7c2c40"/>
<circle cx="862.9" cy="265.8" r="1.1" fill="#7c2c40"/>
<circle cx="868.8" cy="264.7" r="1.1" fill="#7c2c40"/>
<circle cx="866.4" cy="268.2" r="3.6" fill="url(#gb)"/>
<circle cx="884.1" cy="277.4" r="3.5" fill="url(#gb)"/>
<circle cx="856.6" cy="290.8" r="3.8" fill="url(#gb)"/>
<circle cx="880.6" cy="310.3" r="4.0" fill="url(#gb)"/>
<circle cx="920.4" cy="242.1" r="3.0" fill="url(#gb)"/>
<circle cx="952.6" cy="262.0" r="1.1" fill="#7c2c40"/>
<circle cx="947.0" cy="263.0" r="1.1" fill="#7c2c40"/>
<circle cx="946.0" cy="257.4" r="1.1" fill="#7c2c40"/>
<circle cx="951.6" cy="256.4" r="1.1" fill="#7c2c40"/>
<circle cx="949.3" cy="259.7" r="3.4" fill="url(#gb)"/>
<circle cx="927.4" cy="266.1" r="3.5" fill="url(#gb)"/>
<circle cx="932.4" cy="287.3" r="3.6" fill="url(#gb)"/>
<circle cx="964.9" cy="286.2" r="1.1" fill="#7c2c40"/>
<circle cx="958.8" cy="287.3" r="1.1" fill="#7c2c40"/>
<circle cx="957.7" cy="281.2" r="1.1" fill="#7c2c40"/>
<circle cx="963.8" cy="280.1" r="1.1" fill="#7c2c40"/>
<circle cx="961.3" cy="283.7" r="3.8" fill="url(#gb)"/>
<circle cx="969.1" cy="305.6" r="4.3" fill="url(#gb)"/>
<circle cx="913.9" cy="303.0" r="1.1" fill="#7c2c40"/>
<circle cx="908.2" cy="304.1" r="1.1" fill="#7c2c40"/>
<circle cx="907.1" cy="298.4" r="1.1" fill="#7c2c40"/>
<circle cx="912.8" cy="297.3" r="1.1" fill="#7c2c40"/>
<circle cx="910.5" cy="300.7" r="3.5" fill="url(#gb)"/>
<circle cx="820.0" cy="332.5" r="4.0" fill="url(#gb)"/>
<circle cx="857.4" cy="334.0" r="4.3" fill="url(#gb)"/>
<circle cx="822.3" cy="363.3" r="1.1" fill="#7c2c40"/>
<circle cx="814.5" cy="364.7" r="1.1" fill="#7c2c40"/>
<circle cx="813.1" cy="356.9" r="1.1" fill="#7c2c40"/>
<circle cx="820.9" cy="355.5" r="1.1" fill="#7c2c40"/>
<circle cx="817.7" cy="360.1" r="5.0" fill="url(#gb)"/>
<circle cx="883.6" cy="362.4" r="4.8" fill="url(#gb)"/>
<circle cx="926.0" cy="323.1" r="1.1" fill="#7c2c40"/>
<circle cx="919.6" cy="324.3" r="1.1" fill="#7c2c40"/>
<circle cx="918.4" cy="317.9" r="1.1" fill="#7c2c40"/>
<circle cx="924.8" cy="316.7" r="1.1" fill="#7c2c40"/>
<circle cx="922.2" cy="320.5" r="4.0" fill="url(#gb)"/>
<circle cx="903.5" cy="340.3" r="1.1" fill="#7c2c40"/>
<circle cx="897.1" cy="341.5" r="1.1" fill="#7c2c40"/>
<circle cx="895.9" cy="335.1" r="1.1" fill="#7c2c40"/>
<circle cx="902.3" cy="333.9" r="1.1" fill="#7c2c40"/>
<circle cx="899.7" cy="337.7" r="4.0" fill="url(#gb)"/>
<circle cx="920.7" cy="346.7" r="4.8" fill="url(#gb)"/>
<circle cx="918.6" cy="380.6" r="1.1" fill="#7c2c40"/>
<circle cx="910.8" cy="382.0" r="1.1" fill="#7c2c40"/>
<circle cx="909.4" cy="374.2" r="1.1" fill="#7c2c40"/>
<circle cx="917.2" cy="372.8" r="1.1" fill="#7c2c40"/>
<circle cx="914.0" cy="377.4" r="5.0" fill="url(#gb)"/>
<g transform="translate(843.2,439.8) scale(1.00)"><circle r="3.4" fill="#d89c2e"/><circle cx="2.9" cy="0.9" r="1.6" fill="#d49a34"/><circle cx="4.2" cy="1.3" r="1.05" fill="#7c2c40"/><circle cx="0.7" cy="2.9" r="1.6" fill="#d49a34"/><circle cx="1.0" cy="4.3" r="1.05" fill="#7c2c40"/><circle cx="-2.2" cy="2.0" r="1.6" fill="#d49a34"/><circle cx="-3.2" cy="3.0" r="1.05" fill="#7c2c40"/><circle cx="-2.9" cy="-0.9" r="1.6" fill="#d49a34"/><circle cx="-4.2" cy="-1.3" r="1.05" fill="#7c2c40"/><circle cx="-0.7" cy="-2.9" r="1.6" fill="#d49a34"/><circle cx="-1.0" cy="-4.3" r="1.05" fill="#7c2c40"/><circle cx="2.2" cy="-2.0" r="1.6" fill="#d49a34"/><circle cx="3.2" cy="-3.0" r="1.05" fill="#7c2c40"/><circle cx="-0.6" cy="-0.6" r="1.4" fill="#e4b440"/></g>
<g transform="translate(826.9,458.2) scale(1.00)"><circle r="3.4" fill="#d89c2e"/><circle cx="2.9" cy="0.9" r="1.6" fill="#d49a34"/><circle cx="4.2" cy="1.3" r="1.05" fill="#7c2c40"/><circle cx="0.7" cy="2.9" r="1.6" fill="#d49a34"/><circle cx="1.0" cy="4.3" r="1.05" fill="#7c2c40"/><circle cx="-2.2" cy="2.0" r="1.6" fill="#d49a34"/><circle cx="-3.2" cy="3.0" r="1.05" fill="#7c2c40"/><circle cx="-2.9" cy="-0.9" r="1.6" fill="#d49a34"/><circle cx="-4.2" cy="-1.3" r="1.05" fill="#7c2c40"/><circle cx="-0.7" cy="-2.9" r="1.6" fill="#d49a34"/><circle cx="-1.0" cy="-4.3" r="1.05" fill="#7c2c40"/><circle cx="2.2" cy="-2.0" r="1.6" fill="#d49a34"/><circle cx="3.2" cy="-3.0" r="1.05" fill="#7c2c40"/><circle cx="-0.6" cy="-0.6" r="1.4" fill="#e4b440"/></g>
<g transform="translate(891.2,438.4) scale(1.00)"><circle r="3.4" fill="#d89c2e"/><circle cx="2.9" cy="0.9" r="1.6" fill="#d49a34"/><circle cx="4.2" cy="1.3" r="1.05" fill="#7c2c40"/><circle cx="0.7" cy="2.9" r="1.6" fill="#d49a34"/><circle cx="1.0" cy="4.3" r="1.05" fill="#7c2c40"/><circle cx="-2.2" cy="2.0" r="1.6" fill="#d49a34"/><circle cx="-3.2" cy="3.0" r="1.05" fill="#7c2c40"/><circle cx="-2.9" cy="-0.9" r="1.6" fill="#d49a34"/><circle cx="-4.2" cy="-1.3" r="1.05" fill="#7c2c40"/><circle cx="-0.7" cy="-2.9" r="1.6" fill="#d49a34"/><circle cx="-1.0" cy="-4.3" r="1.05" fill="#7c2c40"/><circle cx="2.2" cy="-2.0" r="1.6" fill="#d49a34"/><circle cx="3.2" cy="-3.0" r="1.05" fill="#7c2c40"/><circle cx="-0.6" cy="-0.6" r="1.4" fill="#e4b440"/></g>
<g transform="translate(870.7,475.1) scale(1.00)"><circle r="3.4" fill="#d89c2e"/><circle cx="2.9" cy="0.9" r="1.6" fill="#d49a34"/><circle cx="4.2" cy="1.3" r="1.05" fill="#7c2c40"/><circle cx="0.7" cy="2.9" r="1.6" fill="#d49a34"/><circle cx="1.0" cy="4.3" r="1.05" fill="#7c2c40"/><circle cx="-2.2" cy="2.0" r="1.6" fill="#d49a34"/><circle cx="-3.2" cy="3.0" r="1.05" fill="#7c2c40"/><circle cx="-2.9" cy="-0.9" r="1.6" fill="#d49a34"/><circle cx="-4.2" cy="-1.3" r="1.05" fill="#7c2c40"/><circle cx="-0.7" cy="-2.9" r="1.6" fill="#d49a34"/><circle cx="-1.0" cy="-4.3" r="1.05" fill="#7c2c40"/><circle cx="2.2" cy="-2.0" r="1.6" fill="#d49a34"/><circle cx="3.2" cy="-3.0" r="1.05" fill="#7c2c40"/><circle cx="-0.6" cy="-0.6" r="1.4" fill="#e4b440"/></g>
<g transform="translate(897.6,485.0) scale(1.00)"><circle r="3.4" fill="#d89c2e"/><circle cx="2.9" cy="0.9" r="1.6" fill="#d49a34"/><circle cx="4.2" cy="1.3" r="1.05" fill="#7c2c40"/><circle cx="0.7" cy="2.9" r="1.6" fill="#d49a34"/><circle cx="1.0" cy="4.3" r="1.05" fill="#7c2c40"/><circle cx="-2.2" cy="2.0" r="1.6" fill="#d49a34"/><circle cx="-3.2" cy="3.0" r="1.05" fill="#7c2c40"/><circle cx="-2.9" cy="-0.9" r="1.6" fill="#d49a34"/><circle cx="-4.2" cy="-1.3" r="1.05" fill="#7c2c40"/><circle cx="-0.7" cy="-2.9" r="1.6" fill="#d49a34"/><circle cx="-1.0" cy="-4.3" r="1.05" fill="#7c2c40"/><circle cx="2.2" cy="-2.0" r="1.6" fill="#d49a34"/><circle cx="3.2" cy="-3.0" r="1.05" fill="#7c2c40"/><circle cx="-0.6" cy="-0.6" r="1.4" fill="#e4b440"/></g>
<g transform="translate(839.7,490.0) scale(1.00)"><circle r="3.4" fill="#d89c2e"/><circle cx="2.9" cy="0.9" r="1.6" fill="#d49a34"/><circle cx="4.2" cy="1.3" r="1.05" fill="#7c2c40"/><circle cx="0.7" cy="2.9" r="1.6" fill="#d49a34"/><circle cx="1.0" cy="4.3" r="1.05" fill="#7c2c40"/><circle cx="-2.2" cy="2.0" r="1.6" fill="#d49a34"/><circle cx="-3.2" cy="3.0" r="1.05" fill="#7c2c40"/><circle cx="-2.9" cy="-0.9" r="1.6" fill="#d49a34"/><circle cx="-4.2" cy="-1.3" r="1.05" fill="#7c2c40"/><circle cx="-0.7" cy="-2.9" r="1.6" fill="#d49a34"/><circle cx="-1.0" cy="-4.3" r="1.05" fill="#7c2c40"/><circle cx="2.2" cy="-2.0" r="1.6" fill="#d49a34"/><circle cx="3.2" cy="-3.0" r="1.05" fill="#7c2c40"/><circle cx="-0.6" cy="-0.6" r="1.4" fill="#e4b440"/></g>
<g transform="translate(815.6,506.4) scale(1.00)"><circle r="3.4" fill="#d89c2e"/><circle cx="2.9" cy="0.9" r="1.6" fill="#d49a34"/><circle cx="4.2" cy="1.3" r="1.05" fill="#7c2c40"/><circle cx="0.7" cy="2.9" r="1.6" fill="#d49a34"/><circle cx="1.0" cy="4.3" r="1.05" fill="#7c2c40"/><circle cx="-2.2" cy="2.0" r="1.6" fill="#d49a34"/><circle cx="-3.2" cy="3.0" r="1.05" fill="#7c2c40"/><circle cx="-2.9" cy="-0.9" r="1.6" fill="#d49a34"/><circle cx="-4.2" cy="-1.3" r="1.05" fill="#7c2c40"/><circle cx="-0.7" cy="-2.9" r="1.6" fill="#d49a34"/><circle cx="-1.0" cy="-4.3" r="1.05" fill="#7c2c40"/><circle cx="2.2" cy="-2.0" r="1.6" fill="#d49a34"/><circle cx="3.2" cy="-3.0" r="1.05" fill="#7c2c40"/><circle cx="-0.6" cy="-0.6" r="1.4" fill="#e4b440"/></g>
<g transform="translate(874.3,505.8) scale(1.00)"><circle r="3.4" fill="#d89c2e"/><circle cx="2.9" cy="0.9" r="1.6" fill="#d49a34"/><circle cx="4.2" cy="1.3" r="1.05" fill="#7c2c40"/><circle cx="0.7" cy="2.9" r="1.6" fill="#d49a34"/><circle cx="1.0" cy="4.3" r="1.05" fill="#7c2c40"/><circle cx="-2.2" cy="2.0" r="1.6" fill="#d49a34"/><circle cx="-3.2" cy="3.0" r="1.05" fill="#7c2c40"/><circle cx="-2.9" cy="-0.9" r="1.6" fill="#d49a34"/><circle cx="-4.2" cy="-1.3" r="1.05" fill="#7c2c40"/><circle cx="-0.7" cy="-2.9" r="1.6" fill="#d49a34"/><circle cx="-1.0" cy="-4.3" r="1.05" fill="#7c2c40"/><circle cx="2.2" cy="-2.0" r="1.6" fill="#d49a34"/><circle cx="3.2" cy="-3.0" r="1.05" fill="#7c2c40"/><circle cx="-0.6" cy="-0.6" r="1.4" fill="#e4b440"/></g>
<g transform="translate(919.7,454.0) scale(1.00)"><circle r="3.4" fill="#d89c2e"/><circle cx="2.9" cy="0.9" r="1.6" fill="#d49a34"/><circle cx="4.2" cy="1.3" r="1.05" fill="#7c2c40"/><circle cx="0.7" cy="2.9" r="1.6" fill="#d49a34"/><circle cx="1.0" cy="4.3" r="1.05" fill="#7c2c40"/><circle cx="-2.2" cy="2.0" r="1.6" fill="#d49a34"/><circle cx="-3.2" cy="3.0" r="1.05" fill="#7c2c40"/><circle cx="-2.9" cy="-0.9" r="1.6" fill="#d49a34"/><circle cx="-4.2" cy="-1.3" r="1.05" fill="#7c2c40"/><circle cx="-0.7" cy="-2.9" r="1.6" fill="#d49a34"/><circle cx="-1.0" cy="-4.3" r="1.05" fill="#7c2c40"/><circle cx="2.2" cy="-2.0" r="1.6" fill="#d49a34"/><circle cx="3.2" cy="-3.0" r="1.05" fill="#7c2c40"/><circle cx="-0.6" cy="-0.6" r="1.4" fill="#e4b440"/></g>
<g transform="translate(950.1,461.0) scale(1.00)"><circle r="3.4" fill="#d89c2e"/><circle cx="2.9" cy="0.9" r="1.6" fill="#d49a34"/><circle cx="4.2" cy="1.3" r="1.05" fill="#7c2c40"/><circle cx="0.7" cy="2.9" r="1.6" fill="#d49a34"/><circle cx="1.0" cy="4.3" r="1.05" fill="#7c2c40"/><circle cx="-2.2" cy="2.0" r="1.6" fill="#d49a34"/><circle cx="-3.2" cy="3.0" r="1.05" fill="#7c2c40"/><circle cx="-2.9" cy="-0.9" r="1.6" fill="#d49a34"/><circle cx="-4.2" cy="-1.3" r="1.05" fill="#7c2c40"/><circle cx="-0.7" cy="-2.9" r="1.6" fill="#d49a34"/><circle cx="-1.0" cy="-4.3" r="1.05" fill="#7c2c40"/><circle cx="2.2" cy="-2.0" r="1.6" fill="#d49a34"/><circle cx="3.2" cy="-3.0" r="1.05" fill="#7c2c40"/><circle cx="-0.6" cy="-0.6" r="1.4" fill="#e4b440"/></g>
<g transform="translate(914.8,474.4) scale(1.00)"><circle r="3.4" fill="#d89c2e"/><circle cx="2.9" cy="0.9" r="1.6" fill="#d49a34"/><circle cx="4.2" cy="1.3" r="1.05" fill="#7c2c40"/><circle cx="0.7" cy="2.9" r="1.6" fill="#d49a34"/><circle cx="1.0" cy="4.3" r="1.05" fill="#7c2c40"/><circle cx="-2.2" cy="2.0" r="1.6" fill="#d49a34"/><circle cx="-3.2" cy="3.0" r="1.05" fill="#7c2c40"/><circle cx="-2.9" cy="-0.9" r="1.6" fill="#d49a34"/><circle cx="-4.2" cy="-1.3" r="1.05" fill="#7c2c40"/><circle cx="-0.7" cy="-2.9" r="1.6" fill="#d49a34"/><circle cx="-1.0" cy="-4.3" r="1.05" fill="#7c2c40"/><circle cx="2.2" cy="-2.0" r="1.6" fill="#d49a34"/><circle cx="3.2" cy="-3.0" r="1.05" fill="#7c2c40"/><circle cx="-0.6" cy="-0.6" r="1.4" fill="#e4b440"/></g>
<g transform="translate(950.1,493.5) scale(1.00)"><circle r="3.4" fill="#d89c2e"/><circle cx="2.9" cy="0.9" r="1.6" fill="#d49a34"/><circle cx="4.2" cy="1.3" r="1.05" fill="#7c2c40"/><circle cx="0.7" cy="2.9" r="1.6" fill="#d49a34"/><circle cx="1.0" cy="4.3" r="1.05" fill="#7c2c40"/><circle cx="-2.2" cy="2.0" r="1.6" fill="#d49a34"/><circle cx="-3.2" cy="3.0" r="1.05" fill="#7c2c40"/><circle cx="-2.9" cy="-0.9" r="1.6" fill="#d49a34"/><circle cx="-4.2" cy="-1.3" r="1.05" fill="#7c2c40"/><circle cx="-0.7" cy="-2.9" r="1.6" fill="#d49a34"/><circle cx="-1.0" cy="-4.3" r="1.05" fill="#7c2c40"/><circle cx="2.2" cy="-2.0" r="1.6" fill="#d49a34"/><circle cx="3.2" cy="-3.0" r="1.05" fill="#7c2c40"/><circle cx="-0.6" cy="-0.6" r="1.4" fill="#e4b440"/></g>
<g transform="translate(988.2,478.7) scale(1.00)"><circle r="3.4" fill="#d89c2e"/><circle cx="2.9" cy="0.9" r="1.6" fill="#d49a34"/><circle cx="4.2" cy="1.3" r="1.05" fill="#7c2c40"/><circle cx="0.7" cy="2.9" r="1.6" fill="#d49a34"/><circle cx="1.0" cy="4.3" r="1.05" fill="#7c2c40"/><circle cx="-2.2" cy="2.0" r="1.6" fill="#d49a34"/><circle cx="-3.2" cy="3.0" r="1.05" fill="#7c2c40"/><circle cx="-2.9" cy="-0.9" r="1.6" fill="#d49a34"/><circle cx="-4.2" cy="-1.3" r="1.05" fill="#7c2c40"/><circle cx="-0.7" cy="-2.9" r="1.6" fill="#d49a34"/><circle cx="-1.0" cy="-4.3" r="1.05" fill="#7c2c40"/><circle cx="2.2" cy="-2.0" r="1.6" fill="#d49a34"/><circle cx="3.2" cy="-3.0" r="1.05" fill="#7c2c40"/><circle cx="-0.6" cy="-0.6" r="1.4" fill="#e4b440"/></g>
<g transform="translate(943.7,512.7) scale(1.00)"><circle r="3.4" fill="#d89c2e"/><circle cx="2.9" cy="0.9" r="1.6" fill="#d49a34"/><circle cx="4.2" cy="1.3" r="1.05" fill="#7c2c40"/><circle cx="0.7" cy="2.9" r="1.6" fill="#d49a34"/><circle cx="1.0" cy="4.3" r="1.05" fill="#7c2c40"/><circle cx="-2.2" cy="2.0" r="1.6" fill="#d49a34"/><circle cx="-3.2" cy="3.0" r="1.05" fill="#7c2c40"/><circle cx="-2.9" cy="-0.9" r="1.6" fill="#d49a34"/><circle cx="-4.2" cy="-1.3" r="1.05" fill="#7c2c40"/><circle cx="-0.7" cy="-2.9" r="1.6" fill="#d49a34"/><circle cx="-1.0" cy="-4.3" r="1.05" fill="#7c2c40"/><circle cx="2.2" cy="-2.0" r="1.6" fill="#d49a34"/><circle cx="3.2" cy="-3.0" r="1.05" fill="#7c2c40"/><circle cx="-0.6" cy="-0.6" r="1.4" fill="#e4b440"/></g>
<g transform="translate(981.1,511.2) scale(1.00)"><circle r="3.4" fill="#d89c2e"/><circle cx="2.9" cy="0.9" r="1.6" fill="#d49a34"/><circle cx="4.2" cy="1.3" r="1.05" fill="#7c2c40"/><circle cx="0.7" cy="2.9" r="1.6" fill="#d49a34"/><circle cx="1.0" cy="4.3" r="1.05" fill="#7c2c40"/><circle cx="-2.2" cy="2.0" r="1.6" fill="#d49a34"/><circle cx="-3.2" cy="3.0" r="1.05" fill="#7c2c40"/><circle cx="-2.9" cy="-0.9" r="1.6" fill="#d49a34"/><circle cx="-4.2" cy="-1.3" r="1.05" fill="#7c2c40"/><circle cx="-0.7" cy="-2.9" r="1.6" fill="#d49a34"/><circle cx="-1.0" cy="-4.3" r="1.05" fill="#7c2c40"/><circle cx="2.2" cy="-2.0" r="1.6" fill="#d49a34"/><circle cx="3.2" cy="-3.0" r="1.05" fill="#7c2c40"/><circle cx="-0.6" cy="-0.6" r="1.4" fill="#e4b440"/></g>
<g transform="translate(915.2,521.0) scale(1.00)"><circle r="3.4" fill="#d89c2e"/><circle cx="2.9" cy="0.9" r="1.6" fill="#d49a34"/><circle cx="4.2" cy="1.3" r="1.05" fill="#7c2c40"/><circle cx="0.7" cy="2.9" r="1.6" fill="#d49a34"/><circle cx="1.0" cy="4.3" r="1.05" fill="#7c2c40"/><circle cx="-2.2" cy="2.0" r="1.6" fill="#d49a34"/><circle cx="-3.2" cy="3.0" r="1.05" fill="#7c2c40"/><circle cx="-2.9" cy="-0.9" r="1.6" fill="#d49a34"/><circle cx="-4.2" cy="-1.3" r="1.05" fill="#7c2c40"/><circle cx="-0.7" cy="-2.9" r="1.6" fill="#d49a34"/><circle cx="-1.0" cy="-4.3" r="1.05" fill="#7c2c40"/><circle cx="2.2" cy="-2.0" r="1.6" fill="#d49a34"/><circle cx="3.2" cy="-3.0" r="1.05" fill="#7c2c40"/><circle cx="-0.6" cy="-0.6" r="1.4" fill="#e4b440"/></g>
<g transform="translate(956.4,538.2) scale(1.00)"><circle r="3.4" fill="#d89c2e"/><circle cx="2.9" cy="0.9" r="1.6" fill="#d49a34"/><circle cx="4.2" cy="1.3" r="1.05" fill="#7c2c40"/><circle cx="0.7" cy="2.9" r="1.6" fill="#d49a34"/><circle cx="1.0" cy="4.3" r="1.05" fill="#7c2c40"/><circle cx="-2.2" cy="2.0" r="1.6" fill="#d49a34"/><circle cx="-3.2" cy="3.0" r="1.05" fill="#7c2c40"/><circle cx="-2.9" cy="-0.9" r="1.6" fill="#d49a34"/><circle cx="-4.2" cy="-1.3" r="1.05" fill="#7c2c40"/><circle cx="-0.7" cy="-2.9" r="1.6" fill="#d49a34"/><circle cx="-1.0" cy="-4.3" r="1.05" fill="#7c2c40"/><circle cx="2.2" cy="-2.0" r="1.6" fill="#d49a34"/><circle cx="3.2" cy="-3.0" r="1.05" fill="#7c2c40"/><circle cx="-0.6" cy="-0.6" r="1.4" fill="#e4b440"/></g>
<g transform="translate(910.0,557.6) scale(1.00)"><circle r="3.4" fill="#d89c2e"/><circle cx="2.9" cy="0.9" r="1.6" fill="#d49a34"/><circle cx="4.2" cy="1.3" r="1.05" fill="#7c2c40"/><circle cx="0.7" cy="2.9" r="1.6" fill="#d49a34"/><circle cx="1.0" cy="4.3" r="1.05" fill="#7c2c40"/><circle cx="-2.2" cy="2.0" r="1.6" fill="#d49a34"/><circle cx="-3.2" cy="3.0" r="1.05" fill="#7c2c40"/><circle cx="-2.9" cy="-0.9" r="1.6" fill="#d49a34"/><circle cx="-4.2" cy="-1.3" r="1.05" fill="#7c2c40"/><circle cx="-0.7" cy="-2.9" r="1.6" fill="#d49a34"/><circle cx="-1.0" cy="-4.3" r="1.05" fill="#7c2c40"/><circle cx="2.2" cy="-2.0" r="1.6" fill="#d49a34"/><circle cx="3.2" cy="-3.0" r="1.05" fill="#7c2c40"/><circle cx="-0.6" cy="-0.6" r="1.4" fill="#e4b440"/></g>
<g transform="translate(819.7,537.4) scale(1.00)"><circle r="3.4" fill="#d89c2e"/><circle cx="2.9" cy="0.9" r="1.6" fill="#d49a34"/><circle cx="4.2" cy="1.3" r="1.05" fill="#7c2c40"/><circle cx="0.7" cy="2.9" r="1.6" fill="#d49a34"/><circle cx="1.0" cy="4.3" r="1.05" fill="#7c2c40"/><circle cx="-2.2" cy="2.0" r="1.6" fill="#d49a34"/><circle cx="-3.2" cy="3.0" r="1.05" fill="#7c2c40"/><circle cx="-2.9" cy="-0.9" r="1.6" fill="#d49a34"/><circle cx="-4.2" cy="-1.3" r="1.05" fill="#7c2c40"/><circle cx="-0.7" cy="-2.9" r="1.6" fill="#d49a34"/><circle cx="-1.0" cy="-4.3" r="1.05" fill="#7c2c40"/><circle cx="2.2" cy="-2.0" r="1.6" fill="#d49a34"/><circle cx="3.2" cy="-3.0" r="1.05" fill="#7c2c40"/><circle cx="-0.6" cy="-0.6" r="1.4" fill="#e4b440"/></g>
<g transform="translate(866.9,532.2) scale(1.00)"><circle r="3.4" fill="#d89c2e"/><circle cx="2.9" cy="0.9" r="1.6" fill="#d49a34"/><circle cx="4.2" cy="1.3" r="1.05" fill="#7c2c40"/><circle cx="0.7" cy="2.9" r="1.6" fill="#d49a34"/><circle cx="1.0" cy="4.3" r="1.05" fill="#7c2c40"/><circle cx="-2.2" cy="2.0" r="1.6" fill="#d49a34"/><circle cx="-3.2" cy="3.0" r="1.05" fill="#7c2c40"/><circle cx="-2.9" cy="-0.9" r="1.6" fill="#d49a34"/><circle cx="-4.2" cy="-1.3" r="1.05" fill="#7c2c40"/><circle cx="-0.7" cy="-2.9" r="1.6" fill="#d49a34"/><circle cx="-1.0" cy="-4.3" r="1.05" fill="#7c2c40"/><circle cx="2.2" cy="-2.0" r="1.6" fill="#d49a34"/><circle cx="3.2" cy="-3.0" r="1.05" fill="#7c2c40"/><circle cx="-0.6" cy="-0.6" r="1.4" fill="#e4b440"/></g>
<g transform="translate(859.4,559.1) scale(1.00)"><circle r="3.4" fill="#d89c2e"/><circle cx="2.9" cy="0.9" r="1.6" fill="#d49a34"/><circle cx="4.2" cy="1.3" r="1.05" fill="#7c2c40"/><circle cx="0.7" cy="2.9" r="1.6" fill="#d49a34"/><circle cx="1.0" cy="4.3" r="1.05" fill="#7c2c40"/><circle cx="-2.2" cy="2.0" r="1.6" fill="#d49a34"/><circle cx="-3.2" cy="3.0" r="1.05" fill="#7c2c40"/><circle cx="-2.9" cy="-0.9" r="1.6" fill="#d49a34"/><circle cx="-4.2" cy="-1.3" r="1.05" fill="#7c2c40"/><circle cx="-0.7" cy="-2.9" r="1.6" fill="#d49a34"/><circle cx="-1.0" cy="-4.3" r="1.05" fill="#7c2c40"/><circle cx="2.2" cy="-2.0" r="1.6" fill="#d49a34"/><circle cx="3.2" cy="-3.0" r="1.05" fill="#7c2c40"/><circle cx="-0.6" cy="-0.6" r="1.4" fill="#e4b440"/></g>
<g transform="translate(886.3,561.4) scale(1.00)"><circle r="3.4" fill="#d89c2e"/><circle cx="2.9" cy="0.9" r="1.6" fill="#d49a34"/><circle cx="4.2" cy="1.3" r="1.05" fill="#7c2c40"/><circle cx="0.7" cy="2.9" r="1.6" fill="#d49a34"/><circle cx="1.0" cy="4.3" r="1.05" fill="#7c2c40"/><circle cx="-2.2" cy="2.0" r="1.6" fill="#d49a34"/><circle cx="-3.2" cy="3.0" r="1.05" fill="#7c2c40"/><circle cx="-2.9" cy="-0.9" r="1.6" fill="#d49a34"/><circle cx="-4.2" cy="-1.3" r="1.05" fill="#7c2c40"/><circle cx="-0.7" cy="-2.9" r="1.6" fill="#d49a34"/><circle cx="-1.0" cy="-4.3" r="1.05" fill="#7c2c40"/><circle cx="2.2" cy="-2.0" r="1.6" fill="#d49a34"/><circle cx="3.2" cy="-3.0" r="1.05" fill="#7c2c40"/><circle cx="-0.6" cy="-0.6" r="1.4" fill="#e4b440"/></g>
</svg></body></html>
